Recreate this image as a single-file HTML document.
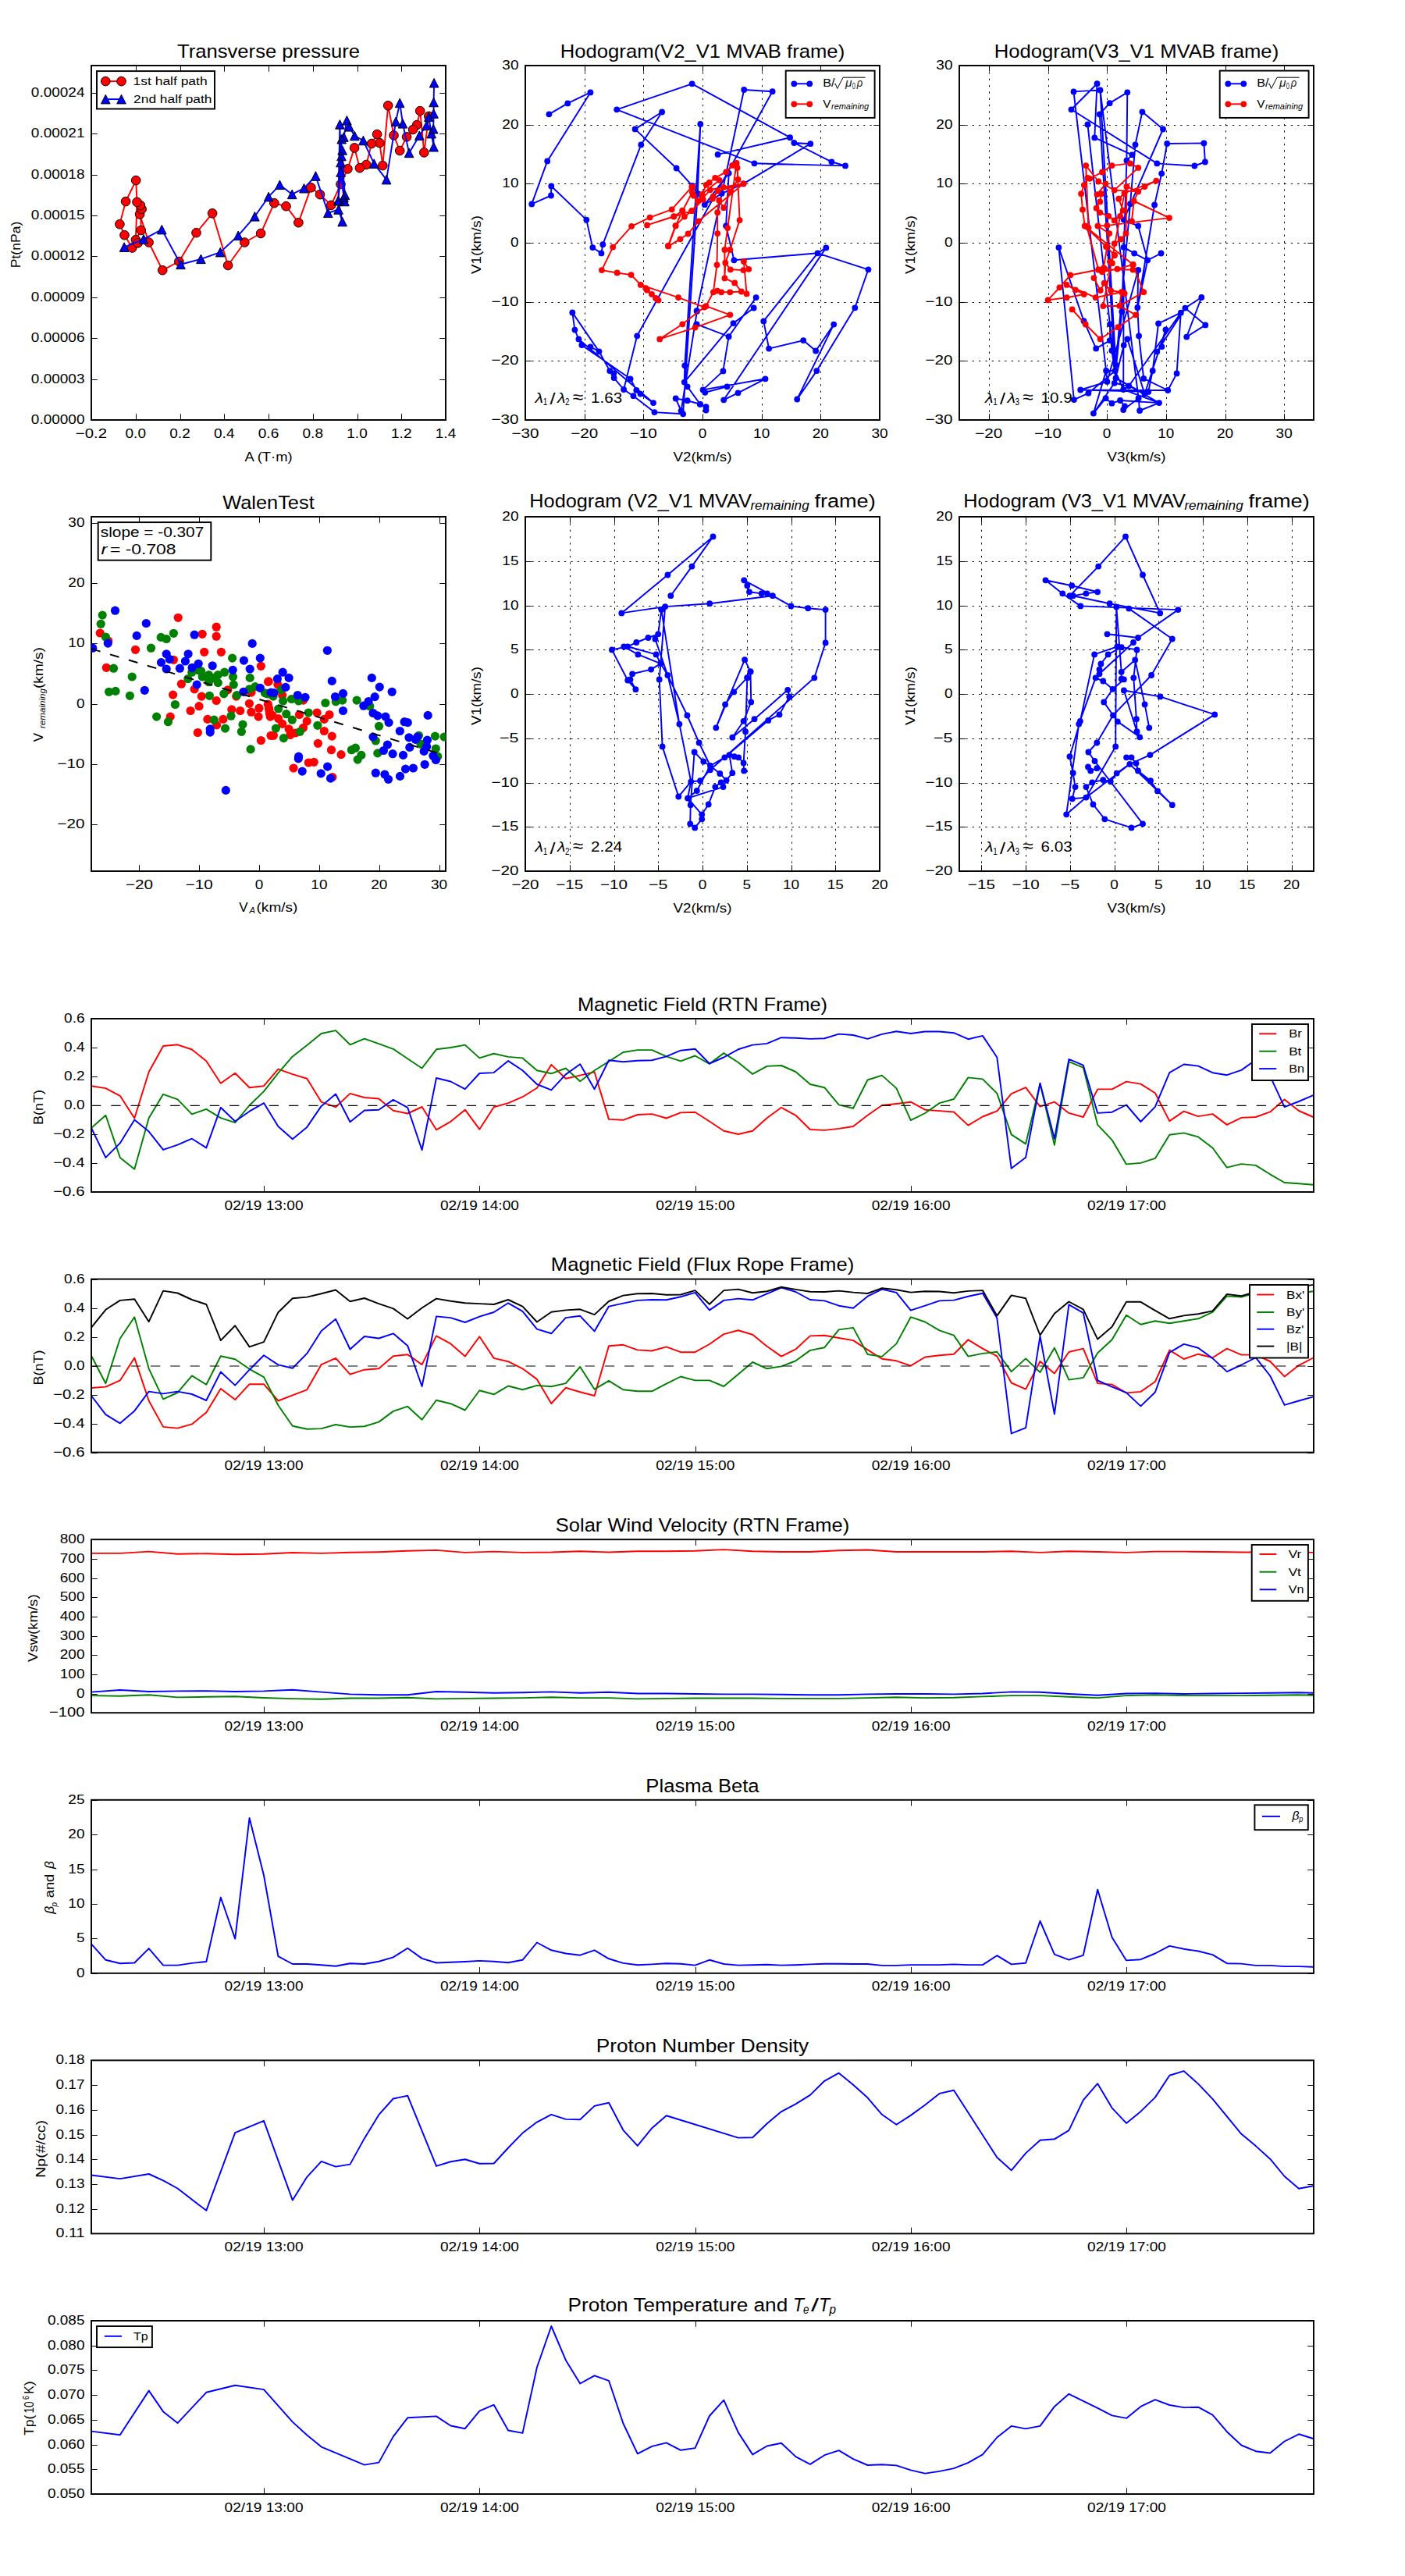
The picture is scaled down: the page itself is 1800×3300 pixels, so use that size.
<!DOCTYPE html>
<html><head><meta charset="utf-8"><style>html,body{margin:0;padding:0;background:#fff}svg{display:block}text{font-family:"Liberation Sans", sans-serif}</style></head>
<body><svg width="1800" height="3300" viewBox="0 0 1800 3300">
<rect width="1800" height="3300" fill="#fff"/>
<defs><clipPath id="c_ts0"><rect x="117" y="1305.0" width="1566" height="222.0"/></clipPath><clipPath id="c_ts1"><rect x="117" y="1638.6" width="1566" height="222.0"/></clipPath><clipPath id="c_ts2"><rect x="117" y="1972.2" width="1566" height="221.99999999999977"/></clipPath><clipPath id="c_ts3"><rect x="117" y="2305.8" width="1566" height="222.0"/></clipPath><clipPath id="c_ts4"><rect x="117" y="2639.4" width="1566" height="222.0"/></clipPath><clipPath id="c_ts5"><rect x="117" y="2973.0" width="1566" height="222.0"/></clipPath><clipPath id="c_p1"><rect x="117" y="84" width="454" height="454"/></clipPath><clipPath id="c_p2"><rect x="673" y="84" width="454" height="454"/></clipPath><clipPath id="c_p3"><rect x="1229" y="84" width="454" height="454"/></clipPath><clipPath id="c_p4"><rect x="117" y="662" width="454" height="454"/></clipPath><clipPath id="c_p5"><rect x="673" y="662" width="454" height="454"/></clipPath><clipPath id="c_p6"><rect x="1229" y="662" width="454" height="454"/></clipPath></defs>
<g clip-path="url(#c_ts0)">
<path d="M117.0 1391.2L135.4 1394.1L153.8 1403.8L172.3 1432.5L190.7 1373.3L209.1 1340.0L227.5 1338.3L245.9 1344.5L264.3 1359.3L282.8 1387.8L301.2 1374.7L319.6 1393.2L338.0 1391.2L356.4 1369.6L374.8 1376.1L393.3 1381.8L411.7 1411.7L430.1 1418.3L448.5 1400.9L466.9 1406.0L485.3 1407.5L503.8 1422.7L522.2 1426.5L540.6 1418.0L559.0 1447.3L577.4 1436.8L595.8 1421.7L614.3 1446.7L632.7 1418.3L651.1 1413.1L669.5 1405.2L687.9 1393.8L706.3 1363.9L724.8 1381.8L743.2 1377.6L761.6 1373.3L780.0 1433.9L798.4 1434.8L816.8 1428.0L835.3 1427.1L853.7 1432.5L872.1 1425.4L890.5 1424.8L908.9 1436.5L927.3 1448.7L945.8 1453.0L964.2 1448.7L982.6 1432.2L1001.0 1418.8L1019.4 1428.8L1037.9 1447.0L1056.3 1447.9L1074.7 1445.9L1093.1 1443.0L1111.5 1428.8L1129.9 1416.0L1148.4 1414.0L1166.8 1411.7L1185.2 1421.7L1203.6 1423.1L1222.0 1424.5L1240.4 1441.6L1258.9 1430.5L1277.3 1423.3L1295.7 1401.1L1314.1 1393.1L1332.5 1417.6L1350.9 1411.6L1369.4 1425.9L1387.8 1431.0L1406.2 1395.4L1424.6 1395.4L1443.0 1385.6L1461.4 1388.6L1479.9 1400.2L1498.3 1436.1L1516.7 1423.6L1535.1 1430.1L1553.5 1427.1L1571.9 1440.9L1590.4 1431.9L1608.8 1431.0L1627.2 1424.4L1645.6 1408.6L1664.0 1423.0L1682.4 1431.0" fill="none" stroke="#ff0000" stroke-width="1.94" stroke-linejoin="round" stroke-linecap="butt"/>
<path d="M117.0 1445.0L135.4 1428.8L153.8 1482.9L172.3 1497.7L190.7 1432.2L209.1 1401.8L227.5 1408.3L245.9 1427.4L264.3 1420.8L282.8 1432.2L301.2 1438.2L319.6 1416.0L338.0 1398.1L356.4 1374.7L374.8 1353.4L393.3 1339.1L411.7 1324.0L430.1 1320.1L448.5 1338.3L466.9 1330.6L485.3 1337.1L503.8 1343.8L522.2 1356.2L540.6 1368.5L559.0 1344.3L577.4 1342.0L595.8 1338.6L614.3 1355.4L632.7 1349.7L651.1 1353.9L669.5 1355.4L687.9 1371.3L706.3 1375.3L724.8 1368.5L743.2 1385.2L761.6 1371.3L780.0 1359.9L798.4 1348.0L816.8 1345.1L835.3 1345.1L853.7 1353.4L872.1 1359.3L890.5 1352.5L908.9 1362.8L927.3 1349.1L945.8 1361.0L964.2 1375.9L982.6 1365.9L1001.0 1365.0L1019.4 1373.0L1037.9 1389.0L1056.3 1393.2L1074.7 1415.4L1093.1 1419.7L1111.5 1383.5L1129.9 1377.6L1148.4 1394.1L1166.8 1435.1L1185.2 1426.0L1203.6 1413.1L1222.0 1408.0L1240.4 1380.4L1258.9 1382.4L1277.3 1400.6L1295.7 1453.4L1314.1 1465.4L1332.5 1388.3L1350.9 1466.9L1369.4 1360.2L1387.8 1367.6L1406.2 1440.9L1424.6 1460.3L1443.0 1491.4L1461.4 1489.9L1479.9 1483.9L1498.3 1453.7L1516.7 1451.4L1535.1 1456.4L1553.5 1470.5L1571.9 1495.6L1590.4 1491.1L1608.8 1492.9L1627.2 1504.3L1645.6 1515.0L1664.0 1516.2L1682.4 1517.7" fill="none" stroke="#008000" stroke-width="1.94" stroke-linejoin="round" stroke-linecap="butt"/>
<path d="M117.0 1445.0L135.4 1482.9L153.8 1464.4L172.3 1434.5L190.7 1449.6L209.1 1472.9L227.5 1466.7L245.9 1458.7L264.3 1470.4L282.8 1418.8L301.2 1436.5L319.6 1423.7L338.0 1413.1L356.4 1443.0L374.8 1459.3L393.3 1443.9L411.7 1416.9L430.1 1401.5L448.5 1437.3L466.9 1422.5L485.3 1421.7L503.8 1408.9L522.2 1418.8L540.6 1473.2L559.0 1381.0L577.4 1385.5L595.8 1395.2L614.3 1375.0L632.7 1374.1L651.1 1359.1L669.5 1371.3L687.9 1389.0L706.3 1396.4L724.8 1376.4L743.2 1363.3L761.6 1395.2L780.0 1358.2L798.4 1360.2L816.8 1358.8L835.3 1358.2L853.7 1353.4L872.1 1345.7L890.5 1343.7L908.9 1362.5L927.3 1354.5L945.8 1344.3L964.2 1338.6L982.6 1336.9L1001.0 1329.2L1019.4 1329.7L1037.9 1330.9L1056.3 1330.3L1074.7 1324.6L1093.1 1326.0L1111.5 1330.9L1129.9 1324.9L1148.4 1321.2L1166.8 1324.0L1185.2 1321.5L1203.6 1321.5L1222.0 1323.2L1240.4 1331.2L1258.9 1326.9L1277.3 1354.5L1295.7 1496.8L1314.1 1482.7L1332.5 1387.7L1350.9 1458.8L1369.4 1356.9L1387.8 1364.7L1406.2 1425.9L1424.6 1424.7L1443.0 1415.5L1461.4 1437.0L1479.9 1417.9L1498.3 1374.2L1516.7 1363.5L1535.1 1365.6L1553.5 1374.2L1571.9 1377.2L1590.4 1370.9L1608.8 1357.8L1627.2 1378.7L1645.6 1418.2L1664.0 1411.0L1682.4 1403.2" fill="none" stroke="#0000ff" stroke-width="1.94" stroke-linejoin="round" stroke-linecap="butt"/>
<path d="M117 1416.4H1683" stroke="#000" stroke-width="1.1" stroke-dasharray="12.3 13" fill="none"/>
</g>
<path d="M338.5 1527.0v-7.78M338.5 1305.0v7.78M614.5 1527.0v-7.78M614.5 1305.0v7.78M891.5 1527.0v-7.78M891.5 1305.0v7.78M1167.5 1527.0v-7.78M1167.5 1305.0v7.78M1443.5 1527.0v-7.78M1443.5 1305.0v7.78M117 1527.5h7.78M1683 1527.5h-7.78M117 1490.5h7.78M1683 1490.5h-7.78M117 1453.5h7.78M1683 1453.5h-7.78M117 1416.5h7.78M1683 1416.5h-7.78M117 1379.5h7.78M1683 1379.5h-7.78M117 1342.5h7.78M1683 1342.5h-7.78M117 1305.5h7.78M1683 1305.5h-7.78" stroke="#000" stroke-width="0.97" fill="none"/>
<text x="338.08" y="1549.60" font-size="16.90" text-anchor="middle" textLength="100.95" lengthAdjust="spacingAndGlyphs" fill="#000">02/19 13:00</text>
<text x="614.44" y="1549.60" font-size="16.90" text-anchor="middle" textLength="100.95" lengthAdjust="spacingAndGlyphs" fill="#000">02/19 14:00</text>
<text x="890.79" y="1549.60" font-size="16.90" text-anchor="middle" textLength="100.95" lengthAdjust="spacingAndGlyphs" fill="#000">02/19 15:00</text>
<text x="1167.14" y="1549.60" font-size="16.90" text-anchor="middle" textLength="100.95" lengthAdjust="spacingAndGlyphs" fill="#000">02/19 16:00</text>
<text x="1443.49" y="1549.60" font-size="16.90" text-anchor="middle" textLength="100.95" lengthAdjust="spacingAndGlyphs" fill="#000">02/19 17:00</text>
<text x="108.50" y="1532.00" font-size="16.90" text-anchor="end" textLength="40.31" lengthAdjust="spacingAndGlyphs" fill="#000">−0.6</text>
<text x="108.50" y="1495.00" font-size="16.90" text-anchor="end" textLength="40.31" lengthAdjust="spacingAndGlyphs" fill="#000">−0.4</text>
<text x="108.50" y="1458.00" font-size="16.90" text-anchor="end" textLength="40.31" lengthAdjust="spacingAndGlyphs" fill="#000">−0.2</text>
<text x="108.50" y="1421.00" font-size="16.90" text-anchor="end" textLength="26.40" lengthAdjust="spacingAndGlyphs" fill="#000">0.0</text>
<text x="108.50" y="1384.00" font-size="16.90" text-anchor="end" textLength="26.40" lengthAdjust="spacingAndGlyphs" fill="#000">0.2</text>
<text x="108.50" y="1347.00" font-size="16.90" text-anchor="end" textLength="26.40" lengthAdjust="spacingAndGlyphs" fill="#000">0.4</text>
<text x="108.50" y="1310.00" font-size="16.90" text-anchor="end" textLength="26.40" lengthAdjust="spacingAndGlyphs" fill="#000">0.6</text>
<rect x="117" y="1305.0" width="1566" height="222.0" fill="none" stroke="#000" stroke-width="1.94"/>
<text x="900.00" y="1294.80" font-size="23.75" text-anchor="middle" textLength="320.05" lengthAdjust="spacingAndGlyphs" fill="#000">Magnetic Field (RTN Frame)</text>
<text x="55.00" y="1418.50" font-size="16.90" text-anchor="middle" textLength="45.00" lengthAdjust="spacingAndGlyphs" fill="#000" transform="rotate(-90 55.00 1418.50)">B(nT)</text>
<rect x="1604.0" y="1312.0" width="72.0" height="72.0" fill="#fff" stroke="#000" stroke-width="1.94"/>
<path d="M1613.2 1324.3H1635.3" stroke="#ff0000" stroke-width="1.94"/>
<text x="1651.20" y="1329.30" font-size="15.27" text-anchor="start" textLength="16.46" lengthAdjust="spacingAndGlyphs" fill="#000">Br</text>
<path d="M1613.2 1346.7H1635.3" stroke="#008000" stroke-width="1.94"/>
<text x="1651.20" y="1351.70" font-size="15.27" text-anchor="start" textLength="16.17" lengthAdjust="spacingAndGlyphs" fill="#000">Bt</text>
<path d="M1613.2 1369.1H1635.3" stroke="#0000ff" stroke-width="1.94"/>
<text x="1651.20" y="1374.10" font-size="15.27" text-anchor="start" textLength="19.80" lengthAdjust="spacingAndGlyphs" fill="#000">Bn</text>
<g clip-path="url(#c_ts1)">
<path d="M117.0 1778.0L135.4 1776.6L153.8 1768.4L172.3 1739.6L190.7 1794.5L209.1 1827.9L227.5 1829.6L245.9 1824.4L264.3 1809.4L282.8 1778.9L301.2 1793.1L319.6 1773.2L338.0 1773.2L356.4 1794.5L374.8 1787.4L393.3 1780.3L411.7 1748.1L430.1 1739.9L448.5 1760.7L466.9 1754.7L485.3 1753.3L503.8 1737.3L522.2 1735.3L540.6 1748.1L559.0 1711.4L577.4 1721.4L595.8 1737.6L614.3 1712.3L632.7 1739.9L651.1 1744.2L669.5 1753.3L687.9 1766.9L706.3 1798.0L724.8 1777.8L743.2 1783.2L761.6 1788.0L780.0 1724.2L798.4 1722.8L816.8 1729.4L835.3 1730.5L853.7 1725.4L872.1 1732.2L890.5 1732.2L908.9 1722.0L927.3 1709.1L945.8 1704.3L964.2 1709.7L982.6 1724.8L1001.0 1737.6L1019.4 1728.5L1037.9 1711.4L1056.3 1710.8L1074.7 1714.0L1093.1 1717.1L1111.5 1729.1L1129.9 1740.7L1148.4 1743.3L1166.8 1749.6L1185.2 1738.5L1203.6 1736.2L1222.0 1734.8L1240.4 1716.3L1258.9 1727.6L1277.3 1737.4L1295.7 1771.5L1314.1 1779.6L1332.5 1744.0L1350.9 1759.5L1369.4 1732.0L1387.8 1727.6L1406.2 1772.1L1424.6 1773.6L1443.0 1784.4L1461.4 1782.9L1479.9 1770.0L1498.3 1729.6L1516.7 1741.0L1535.1 1734.7L1553.5 1739.2L1571.9 1727.6L1590.4 1735.6L1608.8 1735.6L1627.2 1744.0L1645.6 1763.4L1664.0 1749.1L1682.4 1739.5" fill="none" stroke="#ff0000" stroke-width="1.94" stroke-linejoin="round" stroke-linecap="butt"/>
<path d="M117.0 1736.8L135.4 1772.3L153.8 1714.8L172.3 1687.2L190.7 1753.3L209.1 1792.3L227.5 1784.0L245.9 1762.4L264.3 1773.8L282.8 1737.3L301.2 1741.3L319.6 1753.8L338.0 1764.1L356.4 1800.2L374.8 1826.7L393.3 1830.7L411.7 1830.1L430.1 1825.0L448.5 1828.1L466.9 1827.3L485.3 1821.6L503.8 1807.9L522.2 1801.7L540.6 1818.7L559.0 1793.7L577.4 1798.2L595.8 1806.5L614.3 1781.2L632.7 1786.3L651.1 1775.5L669.5 1780.3L687.9 1774.9L706.3 1776.3L724.8 1772.1L743.2 1751.0L761.6 1779.7L780.0 1768.9L798.4 1780.3L816.8 1782.3L835.3 1782.3L853.7 1772.6L872.1 1763.5L890.5 1768.4L908.9 1768.4L927.3 1776.0L945.8 1760.4L964.2 1745.0L982.6 1753.3L1001.0 1750.4L1019.4 1743.3L1037.9 1729.9L1056.3 1726.2L1074.7 1703.4L1093.1 1700.9L1111.5 1735.0L1129.9 1737.9L1148.4 1721.4L1166.8 1687.2L1185.2 1693.5L1203.6 1704.3L1222.0 1710.6L1240.4 1737.6L1258.9 1733.9L1277.3 1731.8L1295.7 1757.1L1314.1 1740.4L1332.5 1758.0L1350.9 1726.7L1369.4 1767.6L1387.8 1764.9L1406.2 1733.2L1424.6 1716.2L1443.0 1684.8L1461.4 1696.8L1479.9 1692.3L1498.3 1695.3L1516.7 1692.3L1535.1 1689.3L1553.5 1680.9L1571.9 1660.3L1590.4 1661.5L1608.8 1656.4L1627.2 1657.3L1645.6 1657.9L1664.0 1656.7L1682.4 1654.3" fill="none" stroke="#008000" stroke-width="1.94" stroke-linejoin="round" stroke-linecap="butt"/>
<path d="M117.0 1788.0L135.4 1812.2L153.8 1823.3L172.3 1807.4L190.7 1782.6L209.1 1785.4L227.5 1782.6L245.9 1786.0L264.3 1794.0L282.8 1757.5L301.2 1774.6L319.6 1754.7L338.0 1736.2L356.4 1748.4L374.8 1752.7L393.3 1733.9L411.7 1704.9L430.1 1689.8L448.5 1728.5L466.9 1712.0L485.3 1714.5L503.8 1708.3L522.2 1723.9L540.6 1776.0L559.0 1686.4L577.4 1688.1L595.8 1694.0L614.3 1686.6L632.7 1681.0L651.1 1669.3L669.5 1679.8L687.9 1702.6L706.3 1708.3L724.8 1688.1L743.2 1685.8L761.6 1705.4L780.0 1673.6L798.4 1669.6L816.8 1665.9L835.3 1665.0L853.7 1665.3L872.1 1661.3L890.5 1655.9L908.9 1678.4L927.3 1665.9L945.8 1663.6L964.2 1665.3L982.6 1657.3L1001.0 1649.6L1019.4 1655.0L1037.9 1665.0L1056.3 1666.4L1074.7 1672.7L1093.1 1675.8L1111.5 1660.7L1129.9 1651.6L1148.4 1655.9L1166.8 1678.7L1185.2 1672.7L1203.6 1666.4L1222.0 1665.6L1240.4 1660.7L1258.9 1656.8L1277.3 1688.5L1295.7 1836.4L1314.1 1829.2L1332.5 1711.7L1350.9 1811.6L1369.4 1671.3L1387.8 1681.8L1406.2 1768.5L1424.6 1776.6L1443.0 1784.1L1461.4 1801.4L1479.9 1783.5L1498.3 1732.6L1516.7 1721.9L1535.1 1726.7L1553.5 1740.1L1571.9 1757.1L1590.4 1748.5L1608.8 1739.2L1627.2 1762.5L1645.6 1799.9L1664.0 1794.5L1682.4 1789.4" fill="none" stroke="#0000ff" stroke-width="1.94" stroke-linejoin="round" stroke-linecap="butt"/>
<path d="M117.0 1700.6L135.4 1677.8L153.8 1665.9L172.3 1664.2L190.7 1693.2L209.1 1653.6L227.5 1656.5L245.9 1665.0L264.3 1671.0L282.8 1717.1L301.2 1698.3L319.6 1725.4L338.0 1719.1L356.4 1681.2L374.8 1663.3L393.3 1661.6L411.7 1657.3L430.1 1652.5L448.5 1667.3L466.9 1663.0L485.3 1670.1L503.8 1676.4L522.2 1689.5L540.6 1675.5L559.0 1663.6L577.4 1666.7L595.8 1669.3L614.3 1670.1L632.7 1671.0L651.1 1665.0L669.5 1673.6L687.9 1693.5L706.3 1680.7L724.8 1678.4L743.2 1677.3L761.6 1684.1L780.0 1667.0L798.4 1659.6L816.8 1657.3L835.3 1657.0L853.7 1658.7L872.1 1658.5L890.5 1653.1L908.9 1670.7L927.3 1653.1L945.8 1651.6L964.2 1656.2L982.6 1654.2L1001.0 1648.8L1019.4 1651.9L1037.9 1654.8L1056.3 1655.0L1074.7 1653.6L1093.1 1655.6L1111.5 1657.0L1129.9 1650.2L1148.4 1652.2L1166.8 1655.6L1185.2 1654.2L1203.6 1654.5L1222.0 1656.2L1240.4 1653.9L1258.9 1653.1L1277.3 1685.6L1295.7 1659.4L1314.1 1663.3L1332.5 1710.5L1350.9 1682.7L1369.4 1667.5L1387.8 1677.3L1406.2 1715.6L1424.6 1699.7L1443.0 1667.8L1461.4 1667.8L1479.9 1678.8L1498.3 1689.3L1516.7 1685.4L1535.1 1683.3L1553.5 1679.4L1571.9 1657.9L1590.4 1660.3L1608.8 1654.9L1627.2 1651.9L1645.6 1650.4L1664.0 1648.9L1682.4 1645.9" fill="none" stroke="#000000" stroke-width="1.94" stroke-linejoin="round" stroke-linecap="butt"/>
<path d="M117 1750.0H1683" stroke="#000" stroke-width="1.1" stroke-dasharray="12.3 13" fill="none"/>
</g>
<path d="M338.5 1860.6v-7.78M338.5 1638.6v7.78M614.5 1860.6v-7.78M614.5 1638.6v7.78M891.5 1860.6v-7.78M891.5 1638.6v7.78M1167.5 1860.6v-7.78M1167.5 1638.6v7.78M1443.5 1860.6v-7.78M1443.5 1638.6v7.78M117 1861.5h7.78M1683 1861.5h-7.78M117 1824.5h7.78M1683 1824.5h-7.78M117 1787.5h7.78M1683 1787.5h-7.78M117 1750.5h7.78M1683 1750.5h-7.78M117 1713.5h7.78M1683 1713.5h-7.78M117 1676.5h7.78M1683 1676.5h-7.78M117 1639.5h7.78M1683 1639.5h-7.78" stroke="#000" stroke-width="0.97" fill="none"/>
<text x="338.08" y="1883.20" font-size="16.90" text-anchor="middle" textLength="100.95" lengthAdjust="spacingAndGlyphs" fill="#000">02/19 13:00</text>
<text x="614.44" y="1883.20" font-size="16.90" text-anchor="middle" textLength="100.95" lengthAdjust="spacingAndGlyphs" fill="#000">02/19 14:00</text>
<text x="890.79" y="1883.20" font-size="16.90" text-anchor="middle" textLength="100.95" lengthAdjust="spacingAndGlyphs" fill="#000">02/19 15:00</text>
<text x="1167.14" y="1883.20" font-size="16.90" text-anchor="middle" textLength="100.95" lengthAdjust="spacingAndGlyphs" fill="#000">02/19 16:00</text>
<text x="1443.49" y="1883.20" font-size="16.90" text-anchor="middle" textLength="100.95" lengthAdjust="spacingAndGlyphs" fill="#000">02/19 17:00</text>
<text x="108.50" y="1865.60" font-size="16.90" text-anchor="end" textLength="40.31" lengthAdjust="spacingAndGlyphs" fill="#000">−0.6</text>
<text x="108.50" y="1828.60" font-size="16.90" text-anchor="end" textLength="40.31" lengthAdjust="spacingAndGlyphs" fill="#000">−0.4</text>
<text x="108.50" y="1791.60" font-size="16.90" text-anchor="end" textLength="40.31" lengthAdjust="spacingAndGlyphs" fill="#000">−0.2</text>
<text x="108.50" y="1754.60" font-size="16.90" text-anchor="end" textLength="26.40" lengthAdjust="spacingAndGlyphs" fill="#000">0.0</text>
<text x="108.50" y="1717.60" font-size="16.90" text-anchor="end" textLength="26.40" lengthAdjust="spacingAndGlyphs" fill="#000">0.2</text>
<text x="108.50" y="1680.60" font-size="16.90" text-anchor="end" textLength="26.40" lengthAdjust="spacingAndGlyphs" fill="#000">0.4</text>
<text x="108.50" y="1643.60" font-size="16.90" text-anchor="end" textLength="26.40" lengthAdjust="spacingAndGlyphs" fill="#000">0.6</text>
<rect x="117" y="1638.6" width="1566" height="222.0" fill="none" stroke="#000" stroke-width="1.94"/>
<text x="900.00" y="1628.40" font-size="23.75" text-anchor="middle" textLength="388.34" lengthAdjust="spacingAndGlyphs" fill="#000">Magnetic Field (Flux Rope Frame)</text>
<text x="55.00" y="1752.10" font-size="16.90" text-anchor="middle" textLength="45.00" lengthAdjust="spacingAndGlyphs" fill="#000" transform="rotate(-90 55.00 1752.10)">B(nT)</text>
<rect x="1601.0" y="1646.0" width="75.0" height="93.5" fill="#fff" stroke="#000" stroke-width="1.94"/>
<path d="M1610.2 1658.5H1632.3" stroke="#ff0000" stroke-width="1.94"/>
<text x="1648.00" y="1663.50" font-size="15.27" text-anchor="start" textLength="23.29" lengthAdjust="spacingAndGlyphs" fill="#000">Bx'</text>
<path d="M1610.2 1681.0H1632.3" stroke="#008000" stroke-width="1.94"/>
<text x="1648.00" y="1686.00" font-size="15.27" text-anchor="start" textLength="23.29" lengthAdjust="spacingAndGlyphs" fill="#000">By'</text>
<path d="M1610.2 1702.7H1632.3" stroke="#0000ff" stroke-width="1.94"/>
<text x="1648.00" y="1707.70" font-size="15.27" text-anchor="start" textLength="22.29" lengthAdjust="spacingAndGlyphs" fill="#000">Bz'</text>
<path d="M1610.2 1724.6H1632.3" stroke="#000000" stroke-width="1.94"/>
<text x="1648.00" y="1729.60" font-size="15.27" text-anchor="start" textLength="20.40" lengthAdjust="spacingAndGlyphs" fill="#000">|B|</text>
<g clip-path="url(#c_ts2)">
<path d="M117.0 1989.9L153.8 1989.9L190.7 1987.6L227.5 1990.8L264.3 1990.2L301.2 1991.3L338.0 1990.8L374.8 1989.0L411.7 1989.9L448.5 1988.8L485.3 1988.2L522.2 1986.8L559.0 1985.9L595.8 1988.9L632.7 1987.6L669.5 1988.9L706.3 1988.5L743.2 1987.2L780.0 1988.5L816.8 1987.2L853.7 1987.2L890.5 1986.8L927.3 1985.1L964.2 1987.2L1001.0 1988.0L1037.9 1988.0L1074.7 1986.3L1111.5 1985.5L1148.4 1988.0L1185.2 1988.0L1222.0 1988.0L1258.9 1988.0L1295.7 1987.2L1332.5 1988.9L1369.4 1987.2L1406.2 1988.0L1443.0 1988.9L1479.9 1987.6L1516.7 1987.6L1553.5 1988.0L1590.4 1988.5L1627.2 1988.5L1664.0 1988.5L1682.4 1988.9" fill="none" stroke="#ff0000" stroke-width="1.94" stroke-linejoin="round" stroke-linecap="butt"/>
<path d="M117.0 2172.1L153.8 2172.7L190.7 2171.3L227.5 2174.4L264.3 2173.8L301.2 2173.2L338.0 2175.0L374.8 2176.1L411.7 2176.7L448.5 2175.5L485.3 2175.5L522.2 2174.7L559.0 2176.4L595.8 2175.9L632.7 2175.5L669.5 2175.1L706.3 2174.2L743.2 2175.1L780.0 2175.1L816.8 2176.4L853.7 2175.9L890.5 2175.5L927.3 2175.5L964.2 2175.5L1001.0 2175.9L1037.9 2175.9L1074.7 2175.9L1111.5 2175.1L1148.4 2174.2L1185.2 2175.1L1222.0 2174.7L1258.9 2173.4L1295.7 2172.1L1332.5 2172.1L1369.4 2173.8L1406.2 2175.1L1443.0 2172.1L1479.9 2171.2L1516.7 2172.1L1553.5 2172.1L1590.4 2172.1L1627.2 2171.7L1664.0 2171.2L1682.4 2171.7" fill="none" stroke="#008000" stroke-width="1.94" stroke-linejoin="round" stroke-linecap="butt"/>
<path d="M117.0 2167.6L153.8 2165.0L190.7 2167.0L227.5 2166.4L264.3 2166.1L301.2 2167.0L338.0 2166.4L374.8 2164.7L411.7 2167.6L448.5 2170.4L485.3 2171.3L522.2 2171.2L559.0 2167.0L595.8 2167.8L632.7 2168.7L669.5 2168.3L706.3 2167.4L743.2 2168.7L780.0 2167.8L816.8 2169.5L853.7 2169.5L890.5 2170.0L927.3 2170.4L964.2 2170.4L1001.0 2170.8L1037.9 2171.2L1074.7 2171.2L1111.5 2170.4L1148.4 2170.0L1185.2 2170.0L1222.0 2170.4L1258.9 2169.5L1295.7 2167.4L1332.5 2167.8L1369.4 2170.0L1406.2 2171.7L1443.0 2169.5L1479.9 2169.1L1516.7 2170.0L1553.5 2169.5L1590.4 2169.1L1627.2 2168.7L1664.0 2168.3L1682.4 2168.7" fill="none" stroke="#0000ff" stroke-width="1.94" stroke-linejoin="round" stroke-linecap="butt"/>
</g>
<path d="M338.5 2194.2v-7.78M338.5 1972.2v7.78M614.5 2194.2v-7.78M614.5 1972.2v7.78M891.5 2194.2v-7.78M891.5 1972.2v7.78M1167.5 2194.2v-7.78M1167.5 1972.2v7.78M1443.5 2194.2v-7.78M1443.5 1972.2v7.78M117 2194.5h7.78M1683 2194.5h-7.78M117 2170.5h7.78M1683 2170.5h-7.78M117 2145.5h7.78M1683 2145.5h-7.78M117 2120.5h7.78M1683 2120.5h-7.78M117 2096.5h7.78M1683 2096.5h-7.78M117 2071.5h7.78M1683 2071.5h-7.78M117 2046.5h7.78M1683 2046.5h-7.78M117 2022.5h7.78M1683 2022.5h-7.78M117 1997.5h7.78M1683 1997.5h-7.78M117 1972.5h7.78M1683 1972.5h-7.78" stroke="#000" stroke-width="0.97" fill="none"/>
<text x="338.08" y="2216.80" font-size="16.90" text-anchor="middle" textLength="100.95" lengthAdjust="spacingAndGlyphs" fill="#000">02/19 13:00</text>
<text x="614.44" y="2216.80" font-size="16.90" text-anchor="middle" textLength="100.95" lengthAdjust="spacingAndGlyphs" fill="#000">02/19 14:00</text>
<text x="890.79" y="2216.80" font-size="16.90" text-anchor="middle" textLength="100.95" lengthAdjust="spacingAndGlyphs" fill="#000">02/19 15:00</text>
<text x="1167.14" y="2216.80" font-size="16.90" text-anchor="middle" textLength="100.95" lengthAdjust="spacingAndGlyphs" fill="#000">02/19 16:00</text>
<text x="1443.49" y="2216.80" font-size="16.90" text-anchor="middle" textLength="100.95" lengthAdjust="spacingAndGlyphs" fill="#000">02/19 17:00</text>
<text x="108.50" y="2199.20" font-size="16.90" text-anchor="end" textLength="45.60" lengthAdjust="spacingAndGlyphs" fill="#000">−100</text>
<text x="108.50" y="2174.53" font-size="16.90" text-anchor="end" textLength="10.56" lengthAdjust="spacingAndGlyphs" fill="#000">0</text>
<text x="108.50" y="2149.87" font-size="16.90" text-anchor="end" textLength="31.69" lengthAdjust="spacingAndGlyphs" fill="#000">100</text>
<text x="108.50" y="2125.20" font-size="16.90" text-anchor="end" textLength="31.69" lengthAdjust="spacingAndGlyphs" fill="#000">200</text>
<text x="108.50" y="2100.53" font-size="16.90" text-anchor="end" textLength="31.69" lengthAdjust="spacingAndGlyphs" fill="#000">300</text>
<text x="108.50" y="2075.87" font-size="16.90" text-anchor="end" textLength="31.69" lengthAdjust="spacingAndGlyphs" fill="#000">400</text>
<text x="108.50" y="2051.20" font-size="16.90" text-anchor="end" textLength="31.69" lengthAdjust="spacingAndGlyphs" fill="#000">500</text>
<text x="108.50" y="2026.53" font-size="16.90" text-anchor="end" textLength="31.69" lengthAdjust="spacingAndGlyphs" fill="#000">600</text>
<text x="108.50" y="2001.87" font-size="16.90" text-anchor="end" textLength="31.69" lengthAdjust="spacingAndGlyphs" fill="#000">700</text>
<text x="108.50" y="1977.20" font-size="16.90" text-anchor="end" textLength="31.69" lengthAdjust="spacingAndGlyphs" fill="#000">800</text>
<rect x="117" y="1972.2" width="1566" height="221.99999999999977" fill="none" stroke="#000" stroke-width="1.94"/>
<text x="900.00" y="1962.00" font-size="23.75" text-anchor="middle" textLength="376.38" lengthAdjust="spacingAndGlyphs" fill="#000">Solar Wind Velocity (RTN Frame)</text>
<text x="48.00" y="2085.70" font-size="16.90" text-anchor="middle" textLength="86.55" lengthAdjust="spacingAndGlyphs" fill="#000" transform="rotate(-90 48.00 2085.70)">Vsw(km/s)</text>
<rect x="1603.7" y="1979.0" width="72.2" height="71.8" fill="#fff" stroke="#000" stroke-width="1.94"/>
<path d="M1613.6 1991.0H1635.3" stroke="#ff0000" stroke-width="1.94"/>
<text x="1650.70" y="1996.00" font-size="15.27" text-anchor="start" textLength="16.43" lengthAdjust="spacingAndGlyphs" fill="#000">Vr</text>
<path d="M1613.6 2013.7H1635.3" stroke="#008000" stroke-width="1.94"/>
<text x="1650.70" y="2018.70" font-size="15.27" text-anchor="start" textLength="16.14" lengthAdjust="spacingAndGlyphs" fill="#000">Vt</text>
<path d="M1613.6 2036.3H1635.3" stroke="#0000ff" stroke-width="1.94"/>
<text x="1650.70" y="2041.30" font-size="15.27" text-anchor="start" textLength="19.77" lengthAdjust="spacingAndGlyphs" fill="#000">Vn</text>
<g clip-path="url(#c_ts3)">
<path d="M117.0 2490.4L135.4 2510.8L153.8 2515.3L172.3 2514.5L190.7 2496.1L209.1 2517.6L227.5 2517.6L245.9 2514.9L264.3 2513.0L282.8 2430.8L301.2 2483.6L319.6 2328.9L338.0 2402.5L356.4 2506.2L374.8 2516.0L393.3 2516.0L411.7 2517.2L430.1 2518.7L448.5 2515.3L466.9 2516.0L485.3 2512.7L503.8 2507.4L522.2 2495.7L540.6 2508.9L559.0 2514.5L577.4 2513.8L595.8 2513.0L614.3 2511.9L632.7 2512.7L651.1 2514.2L669.5 2510.8L687.9 2488.5L706.3 2498.3L724.8 2502.5L743.2 2504.7L761.6 2498.3L780.0 2509.3L798.4 2514.9L816.8 2517.2L835.3 2516.4L853.7 2515.3L872.1 2515.7L890.5 2517.6L908.9 2510.8L927.3 2516.0L945.8 2517.6L964.2 2517.2L982.6 2516.8L1001.0 2517.6L1019.4 2517.2L1037.9 2516.4L1056.3 2515.7L1074.7 2515.7L1093.1 2516.0L1111.5 2516.0L1129.9 2517.9L1148.4 2517.9L1166.8 2517.1L1185.2 2517.1L1203.6 2517.1L1222.0 2516.4L1240.4 2517.1L1258.9 2517.1L1277.3 2505.2L1295.7 2516.4L1314.1 2514.8L1332.5 2461.0L1350.9 2503.7L1369.4 2510.6L1387.8 2504.8L1406.2 2420.7L1424.6 2481.8L1443.0 2511.4L1461.4 2510.2L1479.9 2502.5L1498.3 2492.9L1516.7 2496.8L1535.1 2499.5L1553.5 2504.1L1571.9 2515.2L1590.4 2515.6L1608.8 2517.9L1627.2 2517.9L1645.6 2519.1L1664.0 2519.1L1682.4 2519.8" fill="none" stroke="#0000ff" stroke-width="1.94" stroke-linejoin="round" stroke-linecap="butt"/>
</g>
<path d="M338.5 2527.8v-7.78M338.5 2305.8v7.78M614.5 2527.8v-7.78M614.5 2305.8v7.78M891.5 2527.8v-7.78M891.5 2305.8v7.78M1167.5 2527.8v-7.78M1167.5 2305.8v7.78M1443.5 2527.8v-7.78M1443.5 2305.8v7.78M117 2528.5h7.78M1683 2528.5h-7.78M117 2483.5h7.78M1683 2483.5h-7.78M117 2439.5h7.78M1683 2439.5h-7.78M117 2395.5h7.78M1683 2395.5h-7.78M117 2350.5h7.78M1683 2350.5h-7.78M117 2306.5h7.78M1683 2306.5h-7.78" stroke="#000" stroke-width="0.97" fill="none"/>
<text x="338.08" y="2550.40" font-size="16.90" text-anchor="middle" textLength="100.95" lengthAdjust="spacingAndGlyphs" fill="#000">02/19 13:00</text>
<text x="614.44" y="2550.40" font-size="16.90" text-anchor="middle" textLength="100.95" lengthAdjust="spacingAndGlyphs" fill="#000">02/19 14:00</text>
<text x="890.79" y="2550.40" font-size="16.90" text-anchor="middle" textLength="100.95" lengthAdjust="spacingAndGlyphs" fill="#000">02/19 15:00</text>
<text x="1167.14" y="2550.40" font-size="16.90" text-anchor="middle" textLength="100.95" lengthAdjust="spacingAndGlyphs" fill="#000">02/19 16:00</text>
<text x="1443.49" y="2550.40" font-size="16.90" text-anchor="middle" textLength="100.95" lengthAdjust="spacingAndGlyphs" fill="#000">02/19 17:00</text>
<text x="108.50" y="2532.80" font-size="16.90" text-anchor="end" textLength="10.56" lengthAdjust="spacingAndGlyphs" fill="#000">0</text>
<text x="108.50" y="2488.40" font-size="16.90" text-anchor="end" textLength="10.56" lengthAdjust="spacingAndGlyphs" fill="#000">5</text>
<text x="108.50" y="2444.00" font-size="16.90" text-anchor="end" textLength="21.12" lengthAdjust="spacingAndGlyphs" fill="#000">10</text>
<text x="108.50" y="2399.60" font-size="16.90" text-anchor="end" textLength="21.12" lengthAdjust="spacingAndGlyphs" fill="#000">15</text>
<text x="108.50" y="2355.20" font-size="16.90" text-anchor="end" textLength="21.12" lengthAdjust="spacingAndGlyphs" fill="#000">20</text>
<text x="108.50" y="2310.80" font-size="16.90" text-anchor="end" textLength="21.12" lengthAdjust="spacingAndGlyphs" fill="#000">25</text>
<rect x="117" y="2305.8" width="1566" height="222.0" fill="none" stroke="#000" stroke-width="1.94"/>
<text x="900.00" y="2295.60" font-size="23.75" text-anchor="middle" textLength="145.24" lengthAdjust="spacingAndGlyphs" fill="#000">Plasma Beta</text>
<rect x="1607.4" y="2312.3" width="68.4" height="31.9" fill="#fff" stroke="#000" stroke-width="1.94"/>
<path d="M1617 2326.9H1640" stroke="#0000ff" stroke-width="1.94"/>
<g clip-path="url(#c_ts4)">
<path d="M117.0 2786.5L153.8 2791.1L190.7 2785.0L209.1 2793.3L227.5 2803.5L264.3 2831.8L301.2 2732.2L338.0 2716.8L374.8 2818.6L393.3 2788.8L411.7 2768.8L430.1 2775.6L448.5 2772.6L466.9 2739.4L485.3 2709.2L503.8 2688.5L522.2 2684.7L559.0 2774.9L577.4 2769.2L595.8 2766.2L614.3 2771.8L632.7 2771.5L651.1 2751.5L669.5 2732.6L687.9 2718.6L706.3 2708.8L724.8 2714.9L743.2 2715.3L761.6 2697.9L780.0 2693.7L798.4 2728.8L816.8 2748.8L835.3 2726.2L853.7 2710.3L945.8 2738.6L964.2 2738.3L982.6 2720.5L1001.0 2705.1L1019.4 2695.3L1037.9 2683.9L1056.3 2665.8L1074.7 2655.7L1093.1 2670.7L1111.5 2687.3L1129.9 2708.8L1148.4 2721.7L1166.8 2709.9L1185.2 2696.5L1203.6 2681.9L1222.0 2677.7L1277.3 2763.7L1295.7 2780.3L1314.1 2758.4L1332.5 2741.8L1350.9 2740.3L1369.4 2729.2L1387.8 2690.3L1406.2 2669.2L1424.6 2700.3L1443.0 2719.9L1461.4 2704.9L1479.9 2686.9L1498.3 2658.8L1516.7 2653.1L1535.1 2669.6L1553.5 2688.8L1590.4 2733.8L1608.8 2749.1L1627.2 2765.7L1645.6 2788.0L1664.0 2803.7L1682.4 2800.3" fill="none" stroke="#0000ff" stroke-width="1.94" stroke-linejoin="round" stroke-linecap="butt"/>
</g>
<path d="M338.5 2861.4v-7.78M338.5 2639.4v7.78M614.5 2861.4v-7.78M614.5 2639.4v7.78M891.5 2861.4v-7.78M891.5 2639.4v7.78M1167.5 2861.4v-7.78M1167.5 2639.4v7.78M1443.5 2861.4v-7.78M1443.5 2639.4v7.78M117 2861.5h7.78M1683 2861.5h-7.78M117 2830.5h7.78M1683 2830.5h-7.78M117 2798.5h7.78M1683 2798.5h-7.78M117 2766.5h7.78M1683 2766.5h-7.78M117 2735.5h7.78M1683 2735.5h-7.78M117 2703.5h7.78M1683 2703.5h-7.78M117 2671.5h7.78M1683 2671.5h-7.78M117 2639.5h7.78M1683 2639.5h-7.78" stroke="#000" stroke-width="0.97" fill="none"/>
<text x="338.08" y="2884.00" font-size="16.90" text-anchor="middle" textLength="100.95" lengthAdjust="spacingAndGlyphs" fill="#000">02/19 13:00</text>
<text x="614.44" y="2884.00" font-size="16.90" text-anchor="middle" textLength="100.95" lengthAdjust="spacingAndGlyphs" fill="#000">02/19 14:00</text>
<text x="890.79" y="2884.00" font-size="16.90" text-anchor="middle" textLength="100.95" lengthAdjust="spacingAndGlyphs" fill="#000">02/19 15:00</text>
<text x="1167.14" y="2884.00" font-size="16.90" text-anchor="middle" textLength="100.95" lengthAdjust="spacingAndGlyphs" fill="#000">02/19 16:00</text>
<text x="1443.49" y="2884.00" font-size="16.90" text-anchor="middle" textLength="100.95" lengthAdjust="spacingAndGlyphs" fill="#000">02/19 17:00</text>
<text x="108.50" y="2866.40" font-size="16.90" text-anchor="end" textLength="36.96" lengthAdjust="spacingAndGlyphs" fill="#000">0.11</text>
<text x="108.50" y="2834.69" font-size="16.90" text-anchor="end" textLength="36.96" lengthAdjust="spacingAndGlyphs" fill="#000">0.12</text>
<text x="108.50" y="2802.97" font-size="16.90" text-anchor="end" textLength="36.96" lengthAdjust="spacingAndGlyphs" fill="#000">0.13</text>
<text x="108.50" y="2771.26" font-size="16.90" text-anchor="end" textLength="36.96" lengthAdjust="spacingAndGlyphs" fill="#000">0.14</text>
<text x="108.50" y="2739.54" font-size="16.90" text-anchor="end" textLength="36.96" lengthAdjust="spacingAndGlyphs" fill="#000">0.15</text>
<text x="108.50" y="2707.83" font-size="16.90" text-anchor="end" textLength="36.96" lengthAdjust="spacingAndGlyphs" fill="#000">0.16</text>
<text x="108.50" y="2676.11" font-size="16.90" text-anchor="end" textLength="36.96" lengthAdjust="spacingAndGlyphs" fill="#000">0.17</text>
<text x="108.50" y="2644.40" font-size="16.90" text-anchor="end" textLength="36.96" lengthAdjust="spacingAndGlyphs" fill="#000">0.18</text>
<rect x="117" y="2639.4" width="1566" height="222.0" fill="none" stroke="#000" stroke-width="1.94"/>
<text x="900.00" y="2629.20" font-size="23.75" text-anchor="middle" textLength="272.45" lengthAdjust="spacingAndGlyphs" fill="#000">Proton Number Density</text>
<text x="58.00" y="2752.90" font-size="16.90" text-anchor="middle" textLength="73.67" lengthAdjust="spacingAndGlyphs" fill="#000" transform="rotate(-90 58.00 2752.90)">Np(#/cc)</text>
<g clip-path="url(#c_ts5)">
<path d="M117.0 3114.6L153.8 3119.2L190.7 3062.6L209.1 3089.4L227.5 3104.1L264.3 3064.8L301.2 3055.8L338.0 3061.1L374.8 3102.6L393.3 3119.5L411.7 3134.6L466.9 3157.6L485.3 3154.6L503.8 3121.4L522.2 3097.3L559.0 3095.4L577.4 3107.5L595.8 3111.2L614.3 3088.6L632.7 3080.7L651.1 3113.5L669.5 3116.9L687.9 3032.8L706.3 2980.0L724.8 3023.4L743.2 3053.5L761.6 3043.3L780.0 3049.8L798.4 3104.5L816.8 3143.3L835.3 3133.9L853.7 3129.4L872.1 3138.8L890.5 3136.1L908.9 3095.0L927.3 3074.7L945.8 3116.1L964.2 3144.4L982.6 3133.5L1001.0 3129.7L1019.4 3147.1L1037.9 3156.9L1056.3 3145.2L1074.7 3139.2L1093.1 3150.1L1111.5 3158.0L1129.9 3157.3L1148.4 3158.4L1166.8 3164.4L1185.2 3168.6L1203.6 3165.9L1222.0 3162.1L1240.4 3154.8L1258.9 3144.4L1277.3 3122.5L1295.7 3107.9L1314.1 3111.4L1332.5 3107.9L1350.9 3082.9L1369.4 3066.8L1406.2 3084.8L1424.6 3094.4L1443.0 3097.9L1461.4 3082.9L1479.9 3074.1L1498.3 3081.0L1516.7 3084.1L1535.1 3083.7L1553.5 3093.7L1571.9 3115.2L1590.4 3132.5L1608.8 3140.2L1627.2 3142.5L1645.6 3127.5L1664.0 3118.3L1682.4 3124.0" fill="none" stroke="#0000ff" stroke-width="1.94" stroke-linejoin="round" stroke-linecap="butt"/>
</g>
<path d="M338.5 3195.0v-7.78M338.5 2973.0v7.78M614.5 3195.0v-7.78M614.5 2973.0v7.78M891.5 3195.0v-7.78M891.5 2973.0v7.78M1167.5 3195.0v-7.78M1167.5 2973.0v7.78M1443.5 3195.0v-7.78M1443.5 2973.0v7.78M117 3195.5h7.78M1683 3195.5h-7.78M117 3163.5h7.78M1683 3163.5h-7.78M117 3132.5h7.78M1683 3132.5h-7.78M117 3100.5h7.78M1683 3100.5h-7.78M117 3068.5h7.78M1683 3068.5h-7.78M117 3036.5h7.78M1683 3036.5h-7.78M117 3005.5h7.78M1683 3005.5h-7.78M117 2973.5h7.78M1683 2973.5h-7.78" stroke="#000" stroke-width="0.97" fill="none"/>
<text x="338.08" y="3217.60" font-size="16.90" text-anchor="middle" textLength="100.95" lengthAdjust="spacingAndGlyphs" fill="#000">02/19 13:00</text>
<text x="614.44" y="3217.60" font-size="16.90" text-anchor="middle" textLength="100.95" lengthAdjust="spacingAndGlyphs" fill="#000">02/19 14:00</text>
<text x="890.79" y="3217.60" font-size="16.90" text-anchor="middle" textLength="100.95" lengthAdjust="spacingAndGlyphs" fill="#000">02/19 15:00</text>
<text x="1167.14" y="3217.60" font-size="16.90" text-anchor="middle" textLength="100.95" lengthAdjust="spacingAndGlyphs" fill="#000">02/19 16:00</text>
<text x="1443.49" y="3217.60" font-size="16.90" text-anchor="middle" textLength="100.95" lengthAdjust="spacingAndGlyphs" fill="#000">02/19 17:00</text>
<text x="108.50" y="3200.00" font-size="16.90" text-anchor="end" textLength="47.52" lengthAdjust="spacingAndGlyphs" fill="#000">0.050</text>
<text x="108.50" y="3168.29" font-size="16.90" text-anchor="end" textLength="47.52" lengthAdjust="spacingAndGlyphs" fill="#000">0.055</text>
<text x="108.50" y="3136.57" font-size="16.90" text-anchor="end" textLength="47.52" lengthAdjust="spacingAndGlyphs" fill="#000">0.060</text>
<text x="108.50" y="3104.86" font-size="16.90" text-anchor="end" textLength="47.52" lengthAdjust="spacingAndGlyphs" fill="#000">0.065</text>
<text x="108.50" y="3073.14" font-size="16.90" text-anchor="end" textLength="47.52" lengthAdjust="spacingAndGlyphs" fill="#000">0.070</text>
<text x="108.50" y="3041.43" font-size="16.90" text-anchor="end" textLength="47.52" lengthAdjust="spacingAndGlyphs" fill="#000">0.075</text>
<text x="108.50" y="3009.71" font-size="16.90" text-anchor="end" textLength="47.52" lengthAdjust="spacingAndGlyphs" fill="#000">0.080</text>
<text x="108.50" y="2978.00" font-size="16.90" text-anchor="end" textLength="47.52" lengthAdjust="spacingAndGlyphs" fill="#000">0.085</text>
<rect x="117" y="2973.0" width="1566" height="222.0" fill="none" stroke="#000" stroke-width="1.94"/>
<text x="900.00" y="2962.80" font-size="23.75" text-anchor="middle" textLength="0.00" lengthAdjust="spacingAndGlyphs" fill="#000"></text>
<rect x="124.0" y="2980.0" width="70.9" height="27.1" fill="#fff" stroke="#000" stroke-width="1.94"/>
<path d="M133.8 2992.8H156.0" stroke="#0000ff" stroke-width="1.94"/>
<text x="171.00" y="2997.80" font-size="15.27" text-anchor="start" textLength="18.68" lengthAdjust="spacingAndGlyphs" fill="#000">Tp</text>
<text x="727.50" y="2960.60" font-size="23.75" text-anchor="start" textLength="281.70" lengthAdjust="spacingAndGlyphs" fill="#000">Proton Temperature and</text>
<text x="1016.00" y="2960.60" font-size="24.00" font-family='"Liberation Serif", serif' font-style="italic" text-anchor="start" textLength="14.00" lengthAdjust="spacingAndGlyphs" fill="#000">T</text>
<text x="1029.00" y="2964.00" font-size="16.00" font-family='"Liberation Serif", serif' font-style="italic" text-anchor="start" textLength="7.50" lengthAdjust="spacingAndGlyphs" fill="#000">e</text>
<text x="1039.00" y="2960.60" font-size="24.00" font-family='"Liberation Serif", serif' font-style="normal" text-anchor="start" textLength="10.00" lengthAdjust="spacingAndGlyphs" fill="#000">/</text>
<text x="1049.00" y="2960.60" font-size="24.00" font-family='"Liberation Serif", serif' font-style="italic" text-anchor="start" textLength="14.00" lengthAdjust="spacingAndGlyphs" fill="#000">T</text>
<text x="1062.50" y="2964.00" font-size="16.00" font-family='"Liberation Serif", serif' font-style="italic" text-anchor="start" textLength="8.50" lengthAdjust="spacingAndGlyphs" fill="#000">p</text>
<path d="M117.5 538v-7.78M117.5 84v7.78M174.5 538v-7.78M174.5 84v7.78M231.5 538v-7.78M231.5 84v7.78M287.5 538v-7.78M287.5 84v7.78M344.5 538v-7.78M344.5 84v7.78M401.5 538v-7.78M401.5 84v7.78M458.5 538v-7.78M458.5 84v7.78M514.5 538v-7.78M514.5 84v7.78M571.5 538v-7.78M571.5 84v7.78M117 538.5h7.78M571 538.5h-7.78M117 486.5h7.78M571 486.5h-7.78M117 433.5h7.78M571 433.5h-7.78M117 381.5h7.78M571 381.5h-7.78M117 328.5h7.78M571 328.5h-7.78M117 276.5h7.78M571 276.5h-7.78M117 224.5h7.78M571 224.5h-7.78M117 171.5h7.78M571 171.5h-7.78M117 119.5h7.78M571 119.5h-7.78" stroke="#000" stroke-width="0.97" fill="none"/>
<text x="117.00" y="560.60" font-size="16.90" text-anchor="middle" textLength="40.31" lengthAdjust="spacingAndGlyphs" fill="#000">−0.2</text>
<text x="173.75" y="560.60" font-size="16.90" text-anchor="middle" textLength="26.40" lengthAdjust="spacingAndGlyphs" fill="#000">0.0</text>
<text x="230.50" y="560.60" font-size="16.90" text-anchor="middle" textLength="26.40" lengthAdjust="spacingAndGlyphs" fill="#000">0.2</text>
<text x="287.25" y="560.60" font-size="16.90" text-anchor="middle" textLength="26.40" lengthAdjust="spacingAndGlyphs" fill="#000">0.4</text>
<text x="344.00" y="560.60" font-size="16.90" text-anchor="middle" textLength="26.40" lengthAdjust="spacingAndGlyphs" fill="#000">0.6</text>
<text x="400.75" y="560.60" font-size="16.90" text-anchor="middle" textLength="26.40" lengthAdjust="spacingAndGlyphs" fill="#000">0.8</text>
<text x="457.50" y="560.60" font-size="16.90" text-anchor="middle" textLength="26.40" lengthAdjust="spacingAndGlyphs" fill="#000">1.0</text>
<text x="514.25" y="560.60" font-size="16.90" text-anchor="middle" textLength="26.40" lengthAdjust="spacingAndGlyphs" fill="#000">1.2</text>
<text x="571.00" y="560.60" font-size="16.90" text-anchor="middle" textLength="26.40" lengthAdjust="spacingAndGlyphs" fill="#000">1.4</text>
<text x="108.50" y="543.00" font-size="16.90" text-anchor="end" textLength="68.65" lengthAdjust="spacingAndGlyphs" fill="#000">0.00000</text>
<text x="108.50" y="490.62" font-size="16.90" text-anchor="end" textLength="68.65" lengthAdjust="spacingAndGlyphs" fill="#000">0.00003</text>
<text x="108.50" y="438.23" font-size="16.90" text-anchor="end" textLength="68.65" lengthAdjust="spacingAndGlyphs" fill="#000">0.00006</text>
<text x="108.50" y="385.85" font-size="16.90" text-anchor="end" textLength="68.65" lengthAdjust="spacingAndGlyphs" fill="#000">0.00009</text>
<text x="108.50" y="333.46" font-size="16.90" text-anchor="end" textLength="68.65" lengthAdjust="spacingAndGlyphs" fill="#000">0.00012</text>
<text x="108.50" y="281.08" font-size="16.90" text-anchor="end" textLength="68.65" lengthAdjust="spacingAndGlyphs" fill="#000">0.00015</text>
<text x="108.50" y="228.69" font-size="16.90" text-anchor="end" textLength="68.65" lengthAdjust="spacingAndGlyphs" fill="#000">0.00018</text>
<text x="108.50" y="176.31" font-size="16.90" text-anchor="end" textLength="68.65" lengthAdjust="spacingAndGlyphs" fill="#000">0.00021</text>
<text x="108.50" y="123.92" font-size="16.90" text-anchor="end" textLength="68.65" lengthAdjust="spacingAndGlyphs" fill="#000">0.00024</text>
<rect x="117" y="84" width="454" height="454" fill="none" stroke="#000" stroke-width="1.94"/>
<text x="344.00" y="73.80" font-size="23.75" text-anchor="middle" textLength="234.06" lengthAdjust="spacingAndGlyphs" fill="#000">Transverse pressure</text>
<path d="M673.5 84V538M749.5 84V538M824.5 84V538M900.5 84V538M976.5 84V538M1051.5 84V538M1127.5 84V538M673 538.5H1127M673 462.5H1127M673 387.5H1127M673 311.5H1127M673 235.5H1127M673 160.5H1127M673 84.5H1127" stroke="#000" stroke-width="0.97" stroke-dasharray="2.3 6.03" fill="none"/>
<path d="M673.5 538v-7.78M673.5 84v7.78M749.5 538v-7.78M749.5 84v7.78M824.5 538v-7.78M824.5 84v7.78M900.5 538v-7.78M900.5 84v7.78M976.5 538v-7.78M976.5 84v7.78M1051.5 538v-7.78M1051.5 84v7.78M1127.5 538v-7.78M1127.5 84v7.78M673 538.5h7.78M1127 538.5h-7.78M673 462.5h7.78M1127 462.5h-7.78M673 387.5h7.78M1127 387.5h-7.78M673 311.5h7.78M1127 311.5h-7.78M673 235.5h7.78M1127 235.5h-7.78M673 160.5h7.78M1127 160.5h-7.78M673 84.5h7.78M1127 84.5h-7.78" stroke="#000" stroke-width="0.97" fill="none"/>
<text x="673.00" y="560.60" font-size="16.90" text-anchor="middle" textLength="35.03" lengthAdjust="spacingAndGlyphs" fill="#000">−30</text>
<text x="748.67" y="560.60" font-size="16.90" text-anchor="middle" textLength="35.03" lengthAdjust="spacingAndGlyphs" fill="#000">−20</text>
<text x="824.33" y="560.60" font-size="16.90" text-anchor="middle" textLength="35.03" lengthAdjust="spacingAndGlyphs" fill="#000">−10</text>
<text x="900.00" y="560.60" font-size="16.90" text-anchor="middle" textLength="10.56" lengthAdjust="spacingAndGlyphs" fill="#000">0</text>
<text x="975.67" y="560.60" font-size="16.90" text-anchor="middle" textLength="21.12" lengthAdjust="spacingAndGlyphs" fill="#000">10</text>
<text x="1051.33" y="560.60" font-size="16.90" text-anchor="middle" textLength="21.12" lengthAdjust="spacingAndGlyphs" fill="#000">20</text>
<text x="1127.00" y="560.60" font-size="16.90" text-anchor="middle" textLength="21.12" lengthAdjust="spacingAndGlyphs" fill="#000">30</text>
<text x="664.50" y="543.00" font-size="16.90" text-anchor="end" textLength="35.03" lengthAdjust="spacingAndGlyphs" fill="#000">−30</text>
<text x="664.50" y="467.33" font-size="16.90" text-anchor="end" textLength="35.03" lengthAdjust="spacingAndGlyphs" fill="#000">−20</text>
<text x="664.50" y="391.67" font-size="16.90" text-anchor="end" textLength="35.03" lengthAdjust="spacingAndGlyphs" fill="#000">−10</text>
<text x="664.50" y="316.00" font-size="16.90" text-anchor="end" textLength="10.56" lengthAdjust="spacingAndGlyphs" fill="#000">0</text>
<text x="664.50" y="240.33" font-size="16.90" text-anchor="end" textLength="21.12" lengthAdjust="spacingAndGlyphs" fill="#000">10</text>
<text x="664.50" y="164.67" font-size="16.90" text-anchor="end" textLength="21.12" lengthAdjust="spacingAndGlyphs" fill="#000">20</text>
<text x="664.50" y="89.00" font-size="16.90" text-anchor="end" textLength="21.12" lengthAdjust="spacingAndGlyphs" fill="#000">30</text>
<rect x="673" y="84" width="454" height="454" fill="none" stroke="#000" stroke-width="1.94"/>
<text x="900.00" y="73.80" font-size="23.75" text-anchor="middle" textLength="364.38" lengthAdjust="spacingAndGlyphs" fill="#000">Hodogram(V2_V1 MVAB frame)</text>
<path d="M1267.5 84V538M1343.5 84V538M1418.5 84V538M1494.5 84V538M1570.5 84V538M1645.5 84V538M1229 538.5H1683M1229 462.5H1683M1229 387.5H1683M1229 311.5H1683M1229 235.5H1683M1229 160.5H1683M1229 84.5H1683" stroke="#000" stroke-width="0.97" stroke-dasharray="2.3 6.03" fill="none"/>
<path d="M1267.5 538v-7.78M1267.5 84v7.78M1343.5 538v-7.78M1343.5 84v7.78M1418.5 538v-7.78M1418.5 84v7.78M1494.5 538v-7.78M1494.5 84v7.78M1570.5 538v-7.78M1570.5 84v7.78M1645.5 538v-7.78M1645.5 84v7.78M1229 538.5h7.78M1683 538.5h-7.78M1229 462.5h7.78M1683 462.5h-7.78M1229 387.5h7.78M1683 387.5h-7.78M1229 311.5h7.78M1683 311.5h-7.78M1229 235.5h7.78M1683 235.5h-7.78M1229 160.5h7.78M1683 160.5h-7.78M1229 84.5h7.78M1683 84.5h-7.78" stroke="#000" stroke-width="0.97" fill="none"/>
<text x="1266.83" y="560.60" font-size="16.90" text-anchor="middle" textLength="35.03" lengthAdjust="spacingAndGlyphs" fill="#000">−20</text>
<text x="1342.50" y="560.60" font-size="16.90" text-anchor="middle" textLength="35.03" lengthAdjust="spacingAndGlyphs" fill="#000">−10</text>
<text x="1418.17" y="560.60" font-size="16.90" text-anchor="middle" textLength="10.56" lengthAdjust="spacingAndGlyphs" fill="#000">0</text>
<text x="1493.83" y="560.60" font-size="16.90" text-anchor="middle" textLength="21.12" lengthAdjust="spacingAndGlyphs" fill="#000">10</text>
<text x="1569.50" y="560.60" font-size="16.90" text-anchor="middle" textLength="21.12" lengthAdjust="spacingAndGlyphs" fill="#000">20</text>
<text x="1645.17" y="560.60" font-size="16.90" text-anchor="middle" textLength="21.12" lengthAdjust="spacingAndGlyphs" fill="#000">30</text>
<text x="1220.50" y="543.00" font-size="16.90" text-anchor="end" textLength="35.03" lengthAdjust="spacingAndGlyphs" fill="#000">−30</text>
<text x="1220.50" y="467.33" font-size="16.90" text-anchor="end" textLength="35.03" lengthAdjust="spacingAndGlyphs" fill="#000">−20</text>
<text x="1220.50" y="391.67" font-size="16.90" text-anchor="end" textLength="35.03" lengthAdjust="spacingAndGlyphs" fill="#000">−10</text>
<text x="1220.50" y="316.00" font-size="16.90" text-anchor="end" textLength="10.56" lengthAdjust="spacingAndGlyphs" fill="#000">0</text>
<text x="1220.50" y="240.33" font-size="16.90" text-anchor="end" textLength="21.12" lengthAdjust="spacingAndGlyphs" fill="#000">10</text>
<text x="1220.50" y="164.67" font-size="16.90" text-anchor="end" textLength="21.12" lengthAdjust="spacingAndGlyphs" fill="#000">20</text>
<text x="1220.50" y="89.00" font-size="16.90" text-anchor="end" textLength="21.12" lengthAdjust="spacingAndGlyphs" fill="#000">30</text>
<rect x="1229" y="84" width="454" height="454" fill="none" stroke="#000" stroke-width="1.94"/>
<text x="1456.00" y="73.80" font-size="23.75" text-anchor="middle" textLength="364.38" lengthAdjust="spacingAndGlyphs" fill="#000">Hodogram(V3_V1 MVAB frame)</text>
<path d="M178.5 1116v-7.78M178.5 662v7.78M255.5 1116v-7.78M255.5 662v7.78M332.5 1116v-7.78M332.5 662v7.78M409.5 1116v-7.78M409.5 662v7.78M486.5 1116v-7.78M486.5 662v7.78M563.5 1116v-7.78M563.5 662v7.78M117 1056.5h7.78M571 1056.5h-7.78M117 979.5h7.78M571 979.5h-7.78M117 902.5h7.78M571 902.5h-7.78M117 824.5h7.78M571 824.5h-7.78M117 747.5h7.78M571 747.5h-7.78M117 670.5h7.78M571 670.5h-7.78" stroke="#000" stroke-width="0.97" fill="none"/>
<text x="178.46" y="1138.60" font-size="16.90" text-anchor="middle" textLength="35.03" lengthAdjust="spacingAndGlyphs" fill="#000">−20</text>
<text x="255.27" y="1138.60" font-size="16.90" text-anchor="middle" textLength="35.03" lengthAdjust="spacingAndGlyphs" fill="#000">−10</text>
<text x="332.09" y="1138.60" font-size="16.90" text-anchor="middle" textLength="10.56" lengthAdjust="spacingAndGlyphs" fill="#000">0</text>
<text x="408.91" y="1138.60" font-size="16.90" text-anchor="middle" textLength="21.12" lengthAdjust="spacingAndGlyphs" fill="#000">10</text>
<text x="485.73" y="1138.60" font-size="16.90" text-anchor="middle" textLength="21.12" lengthAdjust="spacingAndGlyphs" fill="#000">20</text>
<text x="562.55" y="1138.60" font-size="16.90" text-anchor="middle" textLength="21.12" lengthAdjust="spacingAndGlyphs" fill="#000">30</text>
<text x="108.50" y="1061.45" font-size="16.90" text-anchor="end" textLength="35.03" lengthAdjust="spacingAndGlyphs" fill="#000">−20</text>
<text x="108.50" y="984.10" font-size="16.90" text-anchor="end" textLength="35.03" lengthAdjust="spacingAndGlyphs" fill="#000">−10</text>
<text x="108.50" y="906.76" font-size="16.90" text-anchor="end" textLength="10.56" lengthAdjust="spacingAndGlyphs" fill="#000">0</text>
<text x="108.50" y="829.42" font-size="16.90" text-anchor="end" textLength="21.12" lengthAdjust="spacingAndGlyphs" fill="#000">10</text>
<text x="108.50" y="752.08" font-size="16.90" text-anchor="end" textLength="21.12" lengthAdjust="spacingAndGlyphs" fill="#000">20</text>
<text x="108.50" y="674.73" font-size="16.90" text-anchor="end" textLength="21.12" lengthAdjust="spacingAndGlyphs" fill="#000">30</text>
<rect x="117" y="662" width="454" height="454" fill="none" stroke="#000" stroke-width="1.94"/>
<text x="344.00" y="651.80" font-size="23.75" text-anchor="middle" textLength="117.44" lengthAdjust="spacingAndGlyphs" fill="#000">WalenTest</text>
<path d="M673.5 662V1116M730.5 662V1116M787.5 662V1116M843.5 662V1116M900.5 662V1116M957.5 662V1116M1014.5 662V1116M1070.5 662V1116M1127.5 662V1116M673 1116.5H1127M673 1059.5H1127M673 1003.5H1127M673 946.5H1127M673 889.5H1127M673 832.5H1127M673 776.5H1127M673 719.5H1127M673 662.5H1127" stroke="#000" stroke-width="0.97" stroke-dasharray="2.3 6.03" fill="none"/>
<path d="M673.5 1116v-7.78M673.5 662v7.78M730.5 1116v-7.78M730.5 662v7.78M787.5 1116v-7.78M787.5 662v7.78M843.5 1116v-7.78M843.5 662v7.78M900.5 1116v-7.78M900.5 662v7.78M957.5 1116v-7.78M957.5 662v7.78M1014.5 1116v-7.78M1014.5 662v7.78M1070.5 1116v-7.78M1070.5 662v7.78M1127.5 1116v-7.78M1127.5 662v7.78M673 1116.5h7.78M1127 1116.5h-7.78M673 1059.5h7.78M1127 1059.5h-7.78M673 1003.5h7.78M1127 1003.5h-7.78M673 946.5h7.78M1127 946.5h-7.78M673 889.5h7.78M1127 889.5h-7.78M673 832.5h7.78M1127 832.5h-7.78M673 776.5h7.78M1127 776.5h-7.78M673 719.5h7.78M1127 719.5h-7.78M673 662.5h7.78M1127 662.5h-7.78" stroke="#000" stroke-width="0.97" fill="none"/>
<text x="673.00" y="1138.60" font-size="16.90" text-anchor="middle" textLength="35.03" lengthAdjust="spacingAndGlyphs" fill="#000">−20</text>
<text x="729.75" y="1138.60" font-size="16.90" text-anchor="middle" textLength="35.03" lengthAdjust="spacingAndGlyphs" fill="#000">−15</text>
<text x="786.50" y="1138.60" font-size="16.90" text-anchor="middle" textLength="35.03" lengthAdjust="spacingAndGlyphs" fill="#000">−10</text>
<text x="843.25" y="1138.60" font-size="16.90" text-anchor="middle" textLength="24.47" lengthAdjust="spacingAndGlyphs" fill="#000">−5</text>
<text x="900.00" y="1138.60" font-size="16.90" text-anchor="middle" textLength="10.56" lengthAdjust="spacingAndGlyphs" fill="#000">0</text>
<text x="956.75" y="1138.60" font-size="16.90" text-anchor="middle" textLength="10.56" lengthAdjust="spacingAndGlyphs" fill="#000">5</text>
<text x="1013.50" y="1138.60" font-size="16.90" text-anchor="middle" textLength="21.12" lengthAdjust="spacingAndGlyphs" fill="#000">10</text>
<text x="1070.25" y="1138.60" font-size="16.90" text-anchor="middle" textLength="21.12" lengthAdjust="spacingAndGlyphs" fill="#000">15</text>
<text x="1127.00" y="1138.60" font-size="16.90" text-anchor="middle" textLength="21.12" lengthAdjust="spacingAndGlyphs" fill="#000">20</text>
<text x="664.50" y="1121.00" font-size="16.90" text-anchor="end" textLength="35.03" lengthAdjust="spacingAndGlyphs" fill="#000">−20</text>
<text x="664.50" y="1064.25" font-size="16.90" text-anchor="end" textLength="35.03" lengthAdjust="spacingAndGlyphs" fill="#000">−15</text>
<text x="664.50" y="1007.50" font-size="16.90" text-anchor="end" textLength="35.03" lengthAdjust="spacingAndGlyphs" fill="#000">−10</text>
<text x="664.50" y="950.75" font-size="16.90" text-anchor="end" textLength="24.47" lengthAdjust="spacingAndGlyphs" fill="#000">−5</text>
<text x="664.50" y="894.00" font-size="16.90" text-anchor="end" textLength="10.56" lengthAdjust="spacingAndGlyphs" fill="#000">0</text>
<text x="664.50" y="837.25" font-size="16.90" text-anchor="end" textLength="10.56" lengthAdjust="spacingAndGlyphs" fill="#000">5</text>
<text x="664.50" y="780.50" font-size="16.90" text-anchor="end" textLength="21.12" lengthAdjust="spacingAndGlyphs" fill="#000">10</text>
<text x="664.50" y="723.75" font-size="16.90" text-anchor="end" textLength="21.12" lengthAdjust="spacingAndGlyphs" fill="#000">15</text>
<text x="664.50" y="667.00" font-size="16.90" text-anchor="end" textLength="21.12" lengthAdjust="spacingAndGlyphs" fill="#000">20</text>
<rect x="673" y="662" width="454" height="454" fill="none" stroke="#000" stroke-width="1.94"/>
<path d="M1257.5 662V1116M1314.5 662V1116M1371.5 662V1116M1428.5 662V1116M1484.5 662V1116M1541.5 662V1116M1598.5 662V1116M1655.5 662V1116M1229 1116.5H1683M1229 1059.5H1683M1229 1003.5H1683M1229 946.5H1683M1229 889.5H1683M1229 832.5H1683M1229 776.5H1683M1229 719.5H1683M1229 662.5H1683" stroke="#000" stroke-width="0.97" stroke-dasharray="2.3 6.03" fill="none"/>
<path d="M1257.5 1116v-7.78M1257.5 662v7.78M1314.5 1116v-7.78M1314.5 662v7.78M1371.5 1116v-7.78M1371.5 662v7.78M1428.5 1116v-7.78M1428.5 662v7.78M1484.5 1116v-7.78M1484.5 662v7.78M1541.5 1116v-7.78M1541.5 662v7.78M1598.5 1116v-7.78M1598.5 662v7.78M1655.5 1116v-7.78M1655.5 662v7.78M1229 1116.5h7.78M1683 1116.5h-7.78M1229 1059.5h7.78M1683 1059.5h-7.78M1229 1003.5h7.78M1683 1003.5h-7.78M1229 946.5h7.78M1683 946.5h-7.78M1229 889.5h7.78M1683 889.5h-7.78M1229 832.5h7.78M1683 832.5h-7.78M1229 776.5h7.78M1683 776.5h-7.78M1229 719.5h7.78M1683 719.5h-7.78M1229 662.5h7.78M1683 662.5h-7.78" stroke="#000" stroke-width="0.97" fill="none"/>
<text x="1257.38" y="1138.60" font-size="16.90" text-anchor="middle" textLength="35.03" lengthAdjust="spacingAndGlyphs" fill="#000">−15</text>
<text x="1314.12" y="1138.60" font-size="16.90" text-anchor="middle" textLength="35.03" lengthAdjust="spacingAndGlyphs" fill="#000">−10</text>
<text x="1370.88" y="1138.60" font-size="16.90" text-anchor="middle" textLength="24.47" lengthAdjust="spacingAndGlyphs" fill="#000">−5</text>
<text x="1427.62" y="1138.60" font-size="16.90" text-anchor="middle" textLength="10.56" lengthAdjust="spacingAndGlyphs" fill="#000">0</text>
<text x="1484.38" y="1138.60" font-size="16.90" text-anchor="middle" textLength="10.56" lengthAdjust="spacingAndGlyphs" fill="#000">5</text>
<text x="1541.12" y="1138.60" font-size="16.90" text-anchor="middle" textLength="21.12" lengthAdjust="spacingAndGlyphs" fill="#000">10</text>
<text x="1597.88" y="1138.60" font-size="16.90" text-anchor="middle" textLength="21.12" lengthAdjust="spacingAndGlyphs" fill="#000">15</text>
<text x="1654.62" y="1138.60" font-size="16.90" text-anchor="middle" textLength="21.12" lengthAdjust="spacingAndGlyphs" fill="#000">20</text>
<text x="1220.50" y="1121.00" font-size="16.90" text-anchor="end" textLength="35.03" lengthAdjust="spacingAndGlyphs" fill="#000">−20</text>
<text x="1220.50" y="1064.25" font-size="16.90" text-anchor="end" textLength="35.03" lengthAdjust="spacingAndGlyphs" fill="#000">−15</text>
<text x="1220.50" y="1007.50" font-size="16.90" text-anchor="end" textLength="35.03" lengthAdjust="spacingAndGlyphs" fill="#000">−10</text>
<text x="1220.50" y="950.75" font-size="16.90" text-anchor="end" textLength="24.47" lengthAdjust="spacingAndGlyphs" fill="#000">−5</text>
<text x="1220.50" y="894.00" font-size="16.90" text-anchor="end" textLength="10.56" lengthAdjust="spacingAndGlyphs" fill="#000">0</text>
<text x="1220.50" y="837.25" font-size="16.90" text-anchor="end" textLength="10.56" lengthAdjust="spacingAndGlyphs" fill="#000">5</text>
<text x="1220.50" y="780.50" font-size="16.90" text-anchor="end" textLength="21.12" lengthAdjust="spacingAndGlyphs" fill="#000">10</text>
<text x="1220.50" y="723.75" font-size="16.90" text-anchor="end" textLength="21.12" lengthAdjust="spacingAndGlyphs" fill="#000">15</text>
<text x="1220.50" y="667.00" font-size="16.90" text-anchor="end" textLength="21.12" lengthAdjust="spacingAndGlyphs" fill="#000">20</text>
<rect x="1229" y="662" width="454" height="454" fill="none" stroke="#000" stroke-width="1.94"/>
<g clip-path="url(#c_p1)">
<path d="M549.3 148.9L543.3 195.4L538.2 142.1L534.2 160.0L529.1 166.0L521.1 175.4L512.2 193.0L504.5 173.4L497.2 135.3L490.3 212.1L486.4 183.1L483.1 172.0L476.1 184.0L469.3 211.0L460.9 215.2L454.1 189.4L445.4 216.4L436.5 236.0L424.2 262.9L410.0 249.2L398.4 240.3L382.4 285.2L366.5 264.2L351.3 260.2L334.1 299.0L313.3 310.5L292.1 340.0L272.1 273.3L251.5 298.2L229.4 335.0L208.2 346.2L190.6 310.5L179.1 274.5L181.6 267.9L179.9 263.0L180.7 295.0L173.9 307.2L175.5 258.9L174.2 231.1L161.1 258.1L153.4 287.2L159.5 301.2L169.3 317.5L176.7 311.3" fill="none" stroke="#ff0000" stroke-width="1.94" stroke-linejoin="round" stroke-linecap="butt"/>
<circle cx="549.3" cy="148.9" r="5.83" fill="#ff0000" stroke="#000" stroke-width="0.97"/><circle cx="543.3" cy="195.4" r="5.83" fill="#ff0000" stroke="#000" stroke-width="0.97"/><circle cx="538.2" cy="142.1" r="5.83" fill="#ff0000" stroke="#000" stroke-width="0.97"/><circle cx="534.2" cy="160.0" r="5.83" fill="#ff0000" stroke="#000" stroke-width="0.97"/><circle cx="529.1" cy="166.0" r="5.83" fill="#ff0000" stroke="#000" stroke-width="0.97"/><circle cx="521.1" cy="175.4" r="5.83" fill="#ff0000" stroke="#000" stroke-width="0.97"/><circle cx="512.2" cy="193.0" r="5.83" fill="#ff0000" stroke="#000" stroke-width="0.97"/><circle cx="504.5" cy="173.4" r="5.83" fill="#ff0000" stroke="#000" stroke-width="0.97"/><circle cx="497.2" cy="135.3" r="5.83" fill="#ff0000" stroke="#000" stroke-width="0.97"/><circle cx="490.3" cy="212.1" r="5.83" fill="#ff0000" stroke="#000" stroke-width="0.97"/><circle cx="486.4" cy="183.1" r="5.83" fill="#ff0000" stroke="#000" stroke-width="0.97"/><circle cx="483.1" cy="172.0" r="5.83" fill="#ff0000" stroke="#000" stroke-width="0.97"/><circle cx="476.1" cy="184.0" r="5.83" fill="#ff0000" stroke="#000" stroke-width="0.97"/><circle cx="469.3" cy="211.0" r="5.83" fill="#ff0000" stroke="#000" stroke-width="0.97"/><circle cx="460.9" cy="215.2" r="5.83" fill="#ff0000" stroke="#000" stroke-width="0.97"/><circle cx="454.1" cy="189.4" r="5.83" fill="#ff0000" stroke="#000" stroke-width="0.97"/><circle cx="445.4" cy="216.4" r="5.83" fill="#ff0000" stroke="#000" stroke-width="0.97"/><circle cx="436.5" cy="236.0" r="5.83" fill="#ff0000" stroke="#000" stroke-width="0.97"/><circle cx="424.2" cy="262.9" r="5.83" fill="#ff0000" stroke="#000" stroke-width="0.97"/><circle cx="410.0" cy="249.2" r="5.83" fill="#ff0000" stroke="#000" stroke-width="0.97"/><circle cx="398.4" cy="240.3" r="5.83" fill="#ff0000" stroke="#000" stroke-width="0.97"/><circle cx="382.4" cy="285.2" r="5.83" fill="#ff0000" stroke="#000" stroke-width="0.97"/><circle cx="366.5" cy="264.2" r="5.83" fill="#ff0000" stroke="#000" stroke-width="0.97"/><circle cx="351.3" cy="260.2" r="5.83" fill="#ff0000" stroke="#000" stroke-width="0.97"/><circle cx="334.1" cy="299.0" r="5.83" fill="#ff0000" stroke="#000" stroke-width="0.97"/><circle cx="313.3" cy="310.5" r="5.83" fill="#ff0000" stroke="#000" stroke-width="0.97"/><circle cx="292.1" cy="340.0" r="5.83" fill="#ff0000" stroke="#000" stroke-width="0.97"/><circle cx="272.1" cy="273.3" r="5.83" fill="#ff0000" stroke="#000" stroke-width="0.97"/><circle cx="251.5" cy="298.2" r="5.83" fill="#ff0000" stroke="#000" stroke-width="0.97"/><circle cx="229.4" cy="335.0" r="5.83" fill="#ff0000" stroke="#000" stroke-width="0.97"/><circle cx="208.2" cy="346.2" r="5.83" fill="#ff0000" stroke="#000" stroke-width="0.97"/><circle cx="190.6" cy="310.5" r="5.83" fill="#ff0000" stroke="#000" stroke-width="0.97"/><circle cx="179.1" cy="274.5" r="5.83" fill="#ff0000" stroke="#000" stroke-width="0.97"/><circle cx="181.6" cy="267.9" r="5.83" fill="#ff0000" stroke="#000" stroke-width="0.97"/><circle cx="179.9" cy="263.0" r="5.83" fill="#ff0000" stroke="#000" stroke-width="0.97"/><circle cx="180.7" cy="295.0" r="5.83" fill="#ff0000" stroke="#000" stroke-width="0.97"/><circle cx="173.9" cy="307.2" r="5.83" fill="#ff0000" stroke="#000" stroke-width="0.97"/><circle cx="175.5" cy="258.9" r="5.83" fill="#ff0000" stroke="#000" stroke-width="0.97"/><circle cx="174.2" cy="231.1" r="5.83" fill="#ff0000" stroke="#000" stroke-width="0.97"/><circle cx="161.1" cy="258.1" r="5.83" fill="#ff0000" stroke="#000" stroke-width="0.97"/><circle cx="153.4" cy="287.2" r="5.83" fill="#ff0000" stroke="#000" stroke-width="0.97"/><circle cx="159.5" cy="301.2" r="5.83" fill="#ff0000" stroke="#000" stroke-width="0.97"/><circle cx="169.3" cy="317.5" r="5.83" fill="#ff0000" stroke="#000" stroke-width="0.97"/><circle cx="176.7" cy="311.3" r="5.83" fill="#ff0000" stroke="#000" stroke-width="0.97"/>
<path d="M159.1 316.6L184.0 306.4L207.3 294.1L231.5 338.8L257.4 331.8L282.2 323.1L305.2 301.8L326.4 277.3L344.1 252.1L358.4 236.8L374.2 248.9L389.5 241.2L404.4 225.5L420.3 272.8L433.6 268.5L438.6 284.0L433.4 257.0L436.6 220.5L440.4 253.0L438.6 192.4L441.5 258.0L437.5 200.0L442.0 250.0L436.5 208.0L435.4 159.4L433.4 257.0L437.7 178.2L440.4 175.5L444.4 154.3L447.4 162.3L454.3 174.0L465.4 180.0L479.2 209.6L495.1 230.1L507.1 155.8L512.2 131.9L516.0 158.3L524.1 195.9L537.3 173.7L546.4 160.9L549.3 149.8L552.7 171.1L555.6 188.2L555.2 165.2L555.6 145.5L555.6 131.0L556.1 106.2" fill="none" stroke="#0000ff" stroke-width="1.94" stroke-linejoin="round" stroke-linecap="butt"/>
<path d="M159.1 310.8L153.3 322.4H164.9ZM184.0 300.6L178.2 312.2H189.8ZM207.3 288.3L201.5 299.9H213.1ZM231.5 333.0L225.7 344.6H237.3ZM257.4 326.0L251.6 337.6H263.2ZM282.2 317.3L276.4 328.9H288.0ZM305.2 296.0L299.4 307.6H311.0ZM326.4 271.5L320.6 283.1H332.2ZM344.1 246.3L338.3 257.9H349.9ZM358.4 231.0L352.6 242.6H364.2ZM374.2 243.1L368.4 254.7H380.0ZM389.5 235.4L383.7 247.0H395.3ZM404.4 219.7L398.6 231.3H410.2ZM420.3 267.0L414.5 278.6H426.1ZM433.6 262.7L427.8 274.3H439.4ZM438.6 278.2L432.8 289.8H444.4ZM433.4 251.2L427.6 262.8H439.2ZM436.6 214.7L430.8 226.3H442.4ZM440.4 247.2L434.6 258.8H446.2ZM438.6 186.6L432.8 198.2H444.4ZM441.5 252.2L435.7 263.8H447.3ZM437.5 194.2L431.7 205.8H443.3ZM442.0 244.2L436.2 255.8H447.8ZM436.5 202.2L430.7 213.8H442.3ZM435.4 153.6L429.6 165.2H441.2ZM433.4 251.2L427.6 262.8H439.2ZM437.7 172.4L431.9 184.0H443.5ZM440.4 169.7L434.6 181.3H446.2ZM444.4 148.5L438.6 160.1H450.2ZM447.4 156.5L441.6 168.1H453.2ZM454.3 168.2L448.5 179.8H460.1ZM465.4 174.2L459.6 185.8H471.2ZM479.2 203.8L473.4 215.4H485.0ZM495.1 224.3L489.3 235.9H500.9ZM507.1 150.0L501.3 161.6H512.9ZM512.2 126.1L506.4 137.7H518.0ZM516.0 152.5L510.2 164.1H521.8ZM524.1 190.1L518.3 201.7H529.9ZM537.3 167.9L531.5 179.5H543.1ZM546.4 155.1L540.6 166.7H552.2ZM549.3 144.0L543.5 155.6H555.1ZM552.7 165.3L546.9 176.9H558.5ZM555.6 182.4L549.8 194.0H561.4ZM555.2 159.4L549.4 171.0H561.0ZM555.6 139.7L549.8 151.3H561.4ZM555.6 125.2L549.8 136.8H561.4ZM556.1 100.4L550.3 112.0H561.9Z" fill="#0000ff" stroke="#000" stroke-width="0.97" stroke-linejoin="miter"/>
</g>
<rect x="124.0" y="91.1" width="151.0" height="48.4" fill="#fff" stroke="#000" stroke-width="1.94"/>
<path d="M135.3 104.1H155.5" stroke="#ff0000" stroke-width="1.94"/>
<circle cx="135.3" cy="104.1" r="5.83" fill="#ff0000" stroke="#000" stroke-width="0.97"/><circle cx="155.5" cy="104.1" r="5.83" fill="#ff0000" stroke="#000" stroke-width="0.97"/>
<text x="170.60" y="108.70" font-size="15.27" text-anchor="start" textLength="95.02" lengthAdjust="spacingAndGlyphs" fill="#000">1st half path</text>
<path d="M135.3 127.1H155.5" stroke="#0000ff" stroke-width="1.94"/>
<path d="M135.3 121.3L129.5 132.9H141.1ZM155.5 121.3L149.7 132.9H161.3Z" fill="#0000ff" stroke="#000" stroke-width="0.97" stroke-linejoin="miter"/>
<text x="171.10" y="131.70" font-size="15.27" text-anchor="start" textLength="100.35" lengthAdjust="spacingAndGlyphs" fill="#000">2nd half path</text>
<text x="344.00" y="590.50" font-size="16.90" text-anchor="middle" textLength="61.17" lengthAdjust="spacingAndGlyphs" fill="#000">A (T·m)</text>
<text x="26.00" y="313.50" font-size="16.90" text-anchor="middle" textLength="59.43" lengthAdjust="spacingAndGlyphs" fill="#000" transform="rotate(-90 26.00 313.50)">Pt(nPa)</text>
<g clip-path="url(#c_p2)">
<path d="M703.4 146.3L727.3 132.4L756.4 118.4L701.2 206.4L681.2 261.4L706.0 250.5L706.3 238.5L751.3 281.6L759.3 317.1L770.4 324.4L772.3 313.2L821.3 185.4L848.1 143.5L813.6 165.4L866.6 215.5L886.8 237.8L893.8 247.8L897.3 158.9L877.3 468.3L876.8 489.6L880.6 495.3L897.0 517.8L904.5 521.2L904.5 525.5M886.6 107.3L790.2 140.3L966.4 209.3L1083.0 212.4L1065.4 207.3L1017.3 183.0L1038.3 184.2L952.4 235.4L924.7 247.8L902.8 262.2L893.8 247.8L875.1 530.3L872.6 526.3L865.7 510.5L880.6 513.2L897.0 517.8M886.6 107.3L1012.1 176.2L919.6 197.9M989.6 117.2L953.2 115.0L892.6 398.2L893.0 398.7L872.6 526.3M989.6 117.2L816.2 430.3L799.1 499.0L786.6 484.1L786.3 478.5L781.2 475.1L767.5 450.3L733.3 400.4L736.4 422.6L741.4 434.4L745.3 442.1L807.6 485.3L815.3 499.9L820.5 504.6L837.0 516.1M741.4 434.4L837.0 516.1M756.4 444.3L767.5 450.3M799.1 499.0L811.4 507.2L838.4 528.1L875.1 530.3M933.7 221.8L930.1 289.3L940.4 333.3L1047.5 324.3L1112.4 345.3L1095.3 394.3L1046.3 475.1L1021.2 511.5L1068.2 415.6L1045.1 449.5L1029.2 436.1L985.1 446.6L978.3 411.4L1047.5 324.3L1058.3 317.4L927.2 512.3L945.5 503.3L980.5 485.3L900.6 499.4L926.4 475.4L933.6 431.2L892.6 415.3L892.2 415.6M933.7 221.8L902.8 262.2M968.6 381.1L933.6 431.2M965.7 394.5L939.5 414.1L876.8 489.6M903.3 502.8L931.5 495.3M896.8 517.8L904.5 521.2" fill="none" stroke="#0000ff" stroke-width="1.94" stroke-linejoin="round"/>
<circle cx="703.4" cy="146.3" r="3.9" fill="#0000ff"/><circle cx="727.3" cy="132.4" r="3.9" fill="#0000ff"/><circle cx="756.4" cy="118.4" r="3.9" fill="#0000ff"/><circle cx="701.2" cy="206.4" r="3.9" fill="#0000ff"/><circle cx="681.2" cy="261.4" r="3.9" fill="#0000ff"/><circle cx="706.0" cy="250.5" r="3.9" fill="#0000ff"/><circle cx="706.3" cy="238.5" r="3.9" fill="#0000ff"/><circle cx="751.3" cy="281.6" r="3.9" fill="#0000ff"/><circle cx="759.3" cy="317.1" r="3.9" fill="#0000ff"/><circle cx="770.4" cy="324.4" r="3.9" fill="#0000ff"/><circle cx="772.3" cy="313.2" r="3.9" fill="#0000ff"/><circle cx="821.3" cy="185.4" r="3.9" fill="#0000ff"/><circle cx="848.1" cy="143.5" r="3.9" fill="#0000ff"/><circle cx="813.6" cy="165.4" r="3.9" fill="#0000ff"/><circle cx="866.6" cy="215.5" r="3.9" fill="#0000ff"/><circle cx="886.8" cy="237.8" r="3.9" fill="#0000ff"/><circle cx="893.8" cy="247.8" r="3.9" fill="#0000ff"/><circle cx="897.3" cy="158.9" r="3.9" fill="#0000ff"/><circle cx="877.3" cy="468.3" r="3.9" fill="#0000ff"/><circle cx="876.8" cy="489.6" r="3.9" fill="#0000ff"/><circle cx="880.6" cy="495.3" r="3.9" fill="#0000ff"/><circle cx="897.0" cy="517.8" r="3.9" fill="#0000ff"/><circle cx="904.5" cy="521.2" r="3.9" fill="#0000ff"/><circle cx="904.5" cy="525.5" r="3.9" fill="#0000ff"/><circle cx="886.6" cy="107.3" r="3.9" fill="#0000ff"/><circle cx="790.2" cy="140.3" r="3.9" fill="#0000ff"/><circle cx="966.4" cy="209.3" r="3.9" fill="#0000ff"/><circle cx="1083.0" cy="212.4" r="3.9" fill="#0000ff"/><circle cx="1065.4" cy="207.3" r="3.9" fill="#0000ff"/><circle cx="1017.3" cy="183.0" r="3.9" fill="#0000ff"/><circle cx="1038.3" cy="184.2" r="3.9" fill="#0000ff"/><circle cx="952.4" cy="235.4" r="3.9" fill="#0000ff"/><circle cx="924.7" cy="247.8" r="3.9" fill="#0000ff"/><circle cx="902.8" cy="262.2" r="3.9" fill="#0000ff"/><circle cx="875.1" cy="530.3" r="3.9" fill="#0000ff"/><circle cx="872.6" cy="526.3" r="3.9" fill="#0000ff"/><circle cx="865.7" cy="510.5" r="3.9" fill="#0000ff"/><circle cx="880.6" cy="513.2" r="3.9" fill="#0000ff"/><circle cx="1012.1" cy="176.2" r="3.9" fill="#0000ff"/><circle cx="919.6" cy="197.9" r="3.9" fill="#0000ff"/><circle cx="989.6" cy="117.2" r="3.9" fill="#0000ff"/><circle cx="953.2" cy="115.0" r="3.9" fill="#0000ff"/><circle cx="892.6" cy="398.2" r="3.9" fill="#0000ff"/><circle cx="893.0" cy="398.7" r="3.9" fill="#0000ff"/><circle cx="816.2" cy="430.3" r="3.9" fill="#0000ff"/><circle cx="799.1" cy="499.0" r="3.9" fill="#0000ff"/><circle cx="786.6" cy="484.1" r="3.9" fill="#0000ff"/><circle cx="786.3" cy="478.5" r="3.9" fill="#0000ff"/><circle cx="781.2" cy="475.1" r="3.9" fill="#0000ff"/><circle cx="767.5" cy="450.3" r="3.9" fill="#0000ff"/><circle cx="733.3" cy="400.4" r="3.9" fill="#0000ff"/><circle cx="736.4" cy="422.6" r="3.9" fill="#0000ff"/><circle cx="741.4" cy="434.4" r="3.9" fill="#0000ff"/><circle cx="745.3" cy="442.1" r="3.9" fill="#0000ff"/><circle cx="807.6" cy="485.3" r="3.9" fill="#0000ff"/><circle cx="815.3" cy="499.9" r="3.9" fill="#0000ff"/><circle cx="820.5" cy="504.6" r="3.9" fill="#0000ff"/><circle cx="837.0" cy="516.1" r="3.9" fill="#0000ff"/><circle cx="756.4" cy="444.3" r="3.9" fill="#0000ff"/><circle cx="811.4" cy="507.2" r="3.9" fill="#0000ff"/><circle cx="838.4" cy="528.1" r="3.9" fill="#0000ff"/><circle cx="933.7" cy="221.8" r="3.9" fill="#0000ff"/><circle cx="930.1" cy="289.3" r="3.9" fill="#0000ff"/><circle cx="940.4" cy="333.3" r="3.9" fill="#0000ff"/><circle cx="1047.5" cy="324.3" r="3.9" fill="#0000ff"/><circle cx="1112.4" cy="345.3" r="3.9" fill="#0000ff"/><circle cx="1095.3" cy="394.3" r="3.9" fill="#0000ff"/><circle cx="1046.3" cy="475.1" r="3.9" fill="#0000ff"/><circle cx="1021.2" cy="511.5" r="3.9" fill="#0000ff"/><circle cx="1068.2" cy="415.6" r="3.9" fill="#0000ff"/><circle cx="1045.1" cy="449.5" r="3.9" fill="#0000ff"/><circle cx="1029.2" cy="436.1" r="3.9" fill="#0000ff"/><circle cx="985.1" cy="446.6" r="3.9" fill="#0000ff"/><circle cx="978.3" cy="411.4" r="3.9" fill="#0000ff"/><circle cx="1058.3" cy="317.4" r="3.9" fill="#0000ff"/><circle cx="927.2" cy="512.3" r="3.9" fill="#0000ff"/><circle cx="945.5" cy="503.3" r="3.9" fill="#0000ff"/><circle cx="980.5" cy="485.3" r="3.9" fill="#0000ff"/><circle cx="900.6" cy="499.4" r="3.9" fill="#0000ff"/><circle cx="926.4" cy="475.4" r="3.9" fill="#0000ff"/><circle cx="933.6" cy="431.2" r="3.9" fill="#0000ff"/><circle cx="892.6" cy="415.3" r="3.9" fill="#0000ff"/><circle cx="892.2" cy="415.6" r="3.9" fill="#0000ff"/><circle cx="968.6" cy="381.1" r="3.9" fill="#0000ff"/><circle cx="965.7" cy="394.5" r="3.9" fill="#0000ff"/><circle cx="939.5" cy="414.1" r="3.9" fill="#0000ff"/><circle cx="903.3" cy="502.8" r="3.9" fill="#0000ff"/><circle cx="931.5" cy="495.3" r="3.9" fill="#0000ff"/><circle cx="896.8" cy="517.8" r="3.9" fill="#0000ff"/>
<path d="M886.3 239.4L860.7 268.3L832.6 278.6L809.1 289.8L785.2 316.6L770.9 346.1L790.6 349.5L808.5 352.1L820.8 364.9L827.3 369.2L829.0 371.7L835.0 376.9L840.0 382.0L843.5 384.6M820.8 364.9L869.1 381.1L902.4 393.6L874.3 415.3L845.2 434.4L890.5 419.6L935.3 403.3L904.5 392.2L913.9 374.3L919.0 372.6L924.2 374.3L935.3 374.3L949.8 373.5L956.6 376.4L952.9 335.0L959.2 344.8L952.4 346.1L935.8 345.3L929.3 336.7L928.4 356.4L941.2 362.4L949.8 373.5M913.9 374.3L918.5 339.3L919.2 299.1L919.2 272.2L921.2 256.7L927.2 266.2L935.7 245.3L945.6 229.8L943.6 208.9L938.1 211.9L930.2 220.4L916.2 227.8L908.8 233.8L904.8 236.8L899.3 248.8L893.8 257.7L888.8 250.7L887.3 239.3L886.8 246.3L874.4 270.2L863.4 277.1L829.0 288.4M829.0 288.4L863.2 277.6L886.2 270.1L909.7 243.3L926.7 239.8L952.6 235.3L919.7 244.8L913.7 251.7L912.7 254.7M874.3 269.6L865.7 289.3L856.3 315.4L871.4 306.3L881.6 299.5L894.8 283.3L952.6 235.3M855.9 315.0L865.4 289.1L876.9 277.6L886.3 270.2L900.8 255.7M947.6 282.1L944.6 214.9L945.6 229.8M947.6 282.1L935.3 320.0L929.3 336.7M932.2 292.1L943.6 208.9M932.2 292.1L928.4 320.0L928.4 356.4M899.3 248.8L921.7 230.8" fill="none" stroke="#ff0000" stroke-width="1.94" stroke-linejoin="round"/>
<circle cx="886.3" cy="239.4" r="3.9" fill="#ff0000"/><circle cx="860.7" cy="268.3" r="3.9" fill="#ff0000"/><circle cx="832.6" cy="278.6" r="3.9" fill="#ff0000"/><circle cx="809.1" cy="289.8" r="3.9" fill="#ff0000"/><circle cx="785.2" cy="316.6" r="3.9" fill="#ff0000"/><circle cx="770.9" cy="346.1" r="3.9" fill="#ff0000"/><circle cx="790.6" cy="349.5" r="3.9" fill="#ff0000"/><circle cx="808.5" cy="352.1" r="3.9" fill="#ff0000"/><circle cx="820.8" cy="364.9" r="3.9" fill="#ff0000"/><circle cx="827.3" cy="369.2" r="3.9" fill="#ff0000"/><circle cx="829.0" cy="371.7" r="3.9" fill="#ff0000"/><circle cx="835.0" cy="376.9" r="3.9" fill="#ff0000"/><circle cx="840.0" cy="382.0" r="3.9" fill="#ff0000"/><circle cx="843.5" cy="384.6" r="3.9" fill="#ff0000"/><circle cx="869.1" cy="381.1" r="3.9" fill="#ff0000"/><circle cx="902.4" cy="393.6" r="3.9" fill="#ff0000"/><circle cx="874.3" cy="415.3" r="3.9" fill="#ff0000"/><circle cx="845.2" cy="434.4" r="3.9" fill="#ff0000"/><circle cx="890.5" cy="419.6" r="3.9" fill="#ff0000"/><circle cx="935.3" cy="403.3" r="3.9" fill="#ff0000"/><circle cx="904.5" cy="392.2" r="3.9" fill="#ff0000"/><circle cx="913.9" cy="374.3" r="3.9" fill="#ff0000"/><circle cx="919.0" cy="372.6" r="3.9" fill="#ff0000"/><circle cx="924.2" cy="374.3" r="3.9" fill="#ff0000"/><circle cx="935.3" cy="374.3" r="3.9" fill="#ff0000"/><circle cx="949.8" cy="373.5" r="3.9" fill="#ff0000"/><circle cx="956.6" cy="376.4" r="3.9" fill="#ff0000"/><circle cx="952.9" cy="335.0" r="3.9" fill="#ff0000"/><circle cx="959.2" cy="344.8" r="3.9" fill="#ff0000"/><circle cx="952.4" cy="346.1" r="3.9" fill="#ff0000"/><circle cx="935.8" cy="345.3" r="3.9" fill="#ff0000"/><circle cx="929.3" cy="336.7" r="3.9" fill="#ff0000"/><circle cx="928.4" cy="356.4" r="3.9" fill="#ff0000"/><circle cx="941.2" cy="362.4" r="3.9" fill="#ff0000"/><circle cx="918.5" cy="339.3" r="3.9" fill="#ff0000"/><circle cx="919.2" cy="299.1" r="3.9" fill="#ff0000"/><circle cx="919.2" cy="272.2" r="3.9" fill="#ff0000"/><circle cx="921.2" cy="256.7" r="3.9" fill="#ff0000"/><circle cx="927.2" cy="266.2" r="3.9" fill="#ff0000"/><circle cx="935.7" cy="245.3" r="3.9" fill="#ff0000"/><circle cx="945.6" cy="229.8" r="3.9" fill="#ff0000"/><circle cx="943.6" cy="208.9" r="3.9" fill="#ff0000"/><circle cx="938.1" cy="211.9" r="3.9" fill="#ff0000"/><circle cx="930.2" cy="220.4" r="3.9" fill="#ff0000"/><circle cx="916.2" cy="227.8" r="3.9" fill="#ff0000"/><circle cx="908.8" cy="233.8" r="3.9" fill="#ff0000"/><circle cx="904.8" cy="236.8" r="3.9" fill="#ff0000"/><circle cx="899.3" cy="248.8" r="3.9" fill="#ff0000"/><circle cx="893.8" cy="257.7" r="3.9" fill="#ff0000"/><circle cx="888.8" cy="250.7" r="3.9" fill="#ff0000"/><circle cx="887.3" cy="239.3" r="3.9" fill="#ff0000"/><circle cx="886.8" cy="246.3" r="3.9" fill="#ff0000"/><circle cx="874.4" cy="270.2" r="3.9" fill="#ff0000"/><circle cx="863.4" cy="277.1" r="3.9" fill="#ff0000"/><circle cx="829.0" cy="288.4" r="3.9" fill="#ff0000"/><circle cx="863.2" cy="277.6" r="3.9" fill="#ff0000"/><circle cx="886.2" cy="270.1" r="3.9" fill="#ff0000"/><circle cx="909.7" cy="243.3" r="3.9" fill="#ff0000"/><circle cx="926.7" cy="239.8" r="3.9" fill="#ff0000"/><circle cx="952.6" cy="235.3" r="3.9" fill="#ff0000"/><circle cx="919.7" cy="244.8" r="3.9" fill="#ff0000"/><circle cx="913.7" cy="251.7" r="3.9" fill="#ff0000"/><circle cx="912.7" cy="254.7" r="3.9" fill="#ff0000"/><circle cx="874.3" cy="269.6" r="3.9" fill="#ff0000"/><circle cx="865.7" cy="289.3" r="3.9" fill="#ff0000"/><circle cx="856.3" cy="315.4" r="3.9" fill="#ff0000"/><circle cx="871.4" cy="306.3" r="3.9" fill="#ff0000"/><circle cx="881.6" cy="299.5" r="3.9" fill="#ff0000"/><circle cx="894.8" cy="283.3" r="3.9" fill="#ff0000"/><circle cx="855.9" cy="315.0" r="3.9" fill="#ff0000"/><circle cx="865.4" cy="289.1" r="3.9" fill="#ff0000"/><circle cx="876.9" cy="277.6" r="3.9" fill="#ff0000"/><circle cx="886.3" cy="270.2" r="3.9" fill="#ff0000"/><circle cx="900.8" cy="255.7" r="3.9" fill="#ff0000"/><circle cx="947.6" cy="282.1" r="3.9" fill="#ff0000"/><circle cx="944.6" cy="214.9" r="3.9" fill="#ff0000"/><circle cx="935.3" cy="320.0" r="3.9" fill="#ff0000"/><circle cx="932.2" cy="292.1" r="3.9" fill="#ff0000"/><circle cx="928.4" cy="320.0" r="3.9" fill="#ff0000"/><circle cx="921.7" cy="230.8" r="3.9" fill="#ff0000"/>
</g>
<rect x="1006.7" y="90.6" width="113.9" height="60.3" fill="#fff" stroke="#000" stroke-width="1.94"/>
<path d="M1017.3 107.3H1037.3" stroke="#0000ff" stroke-width="1.94"/>
<circle cx="1017.3" cy="107.3" r="3.9" fill="#0000ff"/><circle cx="1037.3" cy="107.3" r="3.9" fill="#0000ff"/>
<path d="M1017.3 133.3H1037.3" stroke="#ff0000" stroke-width="1.94"/>
<circle cx="1017.3" cy="133.3" r="3.9" fill="#ff0000"/><circle cx="1037.3" cy="133.3" r="3.9" fill="#ff0000"/>
<text x="1054.30" y="111.10" font-size="15.27" text-anchor="start" textLength="15.34" lengthAdjust="spacingAndGlyphs" fill="#000">B/</text>
<path d="M1069.1 108.2l1.2 -0.8l2.4 6l7.4 -14.2H1108.6" fill="none" stroke="#000" stroke-width="1.0"/>
<text x="1083.14" y="111.10" font-size="15.00" font-family='"Liberation Serif", serif' font-style="italic" text-anchor="start" textLength="8.50" lengthAdjust="spacingAndGlyphs" fill="#222">μ</text>
<text x="1091.64" y="113.60" font-size="10.50" font-family='"Liberation Serif", serif' font-style="normal" text-anchor="start" textLength="4.20" lengthAdjust="spacingAndGlyphs" fill="#222">0</text>
<text x="1097.84" y="111.10" font-size="15.00" font-family='"Liberation Serif", serif' font-style="italic" text-anchor="start" textLength="7.50" lengthAdjust="spacingAndGlyphs" fill="#222">ρ</text>
<text x="1054.30" y="137.60" font-size="15.27" text-anchor="start" textLength="10.26" lengthAdjust="spacingAndGlyphs" fill="#000">V</text>
<text x="1065.06" y="140.10" font-size="10.80" font-family='"Liberation Serif", serif' font-style="italic" text-anchor="start" textLength="48.00" lengthAdjust="spacingAndGlyphs" fill="#000">remaining</text>
<text x="685.50" y="515.60" font-size="19.00" font-family='"Liberation Serif", serif' font-style="italic" text-anchor="start" textLength="10.50" lengthAdjust="spacingAndGlyphs" fill="#000">λ</text>
<text x="695.70" y="519.10" font-size="13.00" font-family='"Liberation Serif", serif' font-style="normal" text-anchor="start" textLength="5.50" lengthAdjust="spacingAndGlyphs" fill="#000">1</text>
<text x="704.50" y="518.10" font-size="21.00" font-family='"Liberation Serif", serif' font-style="normal" text-anchor="start" textLength="7.00" lengthAdjust="spacingAndGlyphs" fill="#000">/</text>
<text x="714.00" y="515.60" font-size="19.00" font-family='"Liberation Serif", serif' font-style="italic" text-anchor="start" textLength="10.50" lengthAdjust="spacingAndGlyphs" fill="#000">λ</text>
<text x="724.10" y="519.10" font-size="13.00" font-family='"Liberation Serif", serif' font-style="normal" text-anchor="start" textLength="5.50" lengthAdjust="spacingAndGlyphs" fill="#000">2</text>
<text x="733.50" y="515.60" font-size="22.00" font-family='"Liberation Serif", serif' font-style="normal" text-anchor="start" textLength="13.50" lengthAdjust="spacingAndGlyphs" fill="#000">≈</text>
<text x="757.00" y="515.60" font-size="18.33" text-anchor="start" textLength="40.08" lengthAdjust="spacingAndGlyphs" fill="#000">1.63</text>
<g clip-path="url(#c_p3)">
<path d="M1375.5 117.4L1409.5 115.4L1429.5 467.6L1428.6 475.0L1417.1 475.0L1400.9 529.6L1416.6 510.2L1424.4 516.7L1435.1 513.0L1441.0 520.4L1439.2 525.0L1458.6 510.2L1460.1 526.0L1485.0 516.1L1435.1 513.0M1405.5 107.2L1372.5 140.3L1482.3 209.4L1530.4 212.5L1543.9 207.5L1542.4 183.4L1495.2 184.0L1488.2 222.3L1479.1 262.5L1457.3 394.0L1458.2 345.9L1418.4 488.9M1482.3 450.6L1518.4 394.6L1539.3 381.0L1520.2 431.6L1544.3 416.4L1518.4 394.6M1512.8 400.7L1484.1 414.4M1405.5 107.2L1402.3 176.4L1450.4 198.3L1443.4 205.7L1437.3 399.2L1427.7 490.8L1446.2 494.5L1512.8 400.7L1507.6 478.4L1496.2 500.0L1465.2 484.9L1459.1 430.3L1457.3 394.0L1470.2 333.3L1487.5 324.5M1375.5 117.4L1417.1 475.0L1418.4 488.9L1384.2 499.5L1471.2 501.9L1476.7 475.0L1484.1 414.4L1512.8 400.7M1444.3 118.3L1421.6 132.2L1408.8 146.4L1428.6 475.0L1394.4 503.7L1375.9 512.1L1356.4 317.1L1388.5 411.2L1404.2 446.4L1422.1 436.2L1422.1 415.3L1424.4 449.1L1429.5 484.3L1485.0 516.1M1444.3 118.3L1443.4 205.7L1437.3 399.2L1429.5 467.6L1429.5 484.3L1466.5 504.7L1444.3 434.3L1439.7 442.3L1427.7 490.8L1400.9 529.6M1463.4 143.3L1490.0 165.5L1439.7 281.5L1458.2 289.5L1470.2 333.3L1453.2 324.6L1439.7 316.7L1439.2 499.1L1446.2 494.5L1466.5 504.7L1471.2 501.9M1463.4 143.3L1454.5 185.3L1448.0 261.2L1429.5 467.6M1393.4 159.4L1428.6 475.0L1439.2 499.1L1485.0 516.1M1518.4 394.6L1482.3 450.6L1488.4 444.1L1493.4 422.3L1466.5 504.7M1409.5 115.4L1458.6 510.2M1384.2 499.5L1496.2 500.0L1507.6 478.4" fill="none" stroke="#0000ff" stroke-width="1.94" stroke-linejoin="round"/>
<circle cx="1375.5" cy="117.4" r="3.9" fill="#0000ff"/><circle cx="1409.5" cy="115.4" r="3.9" fill="#0000ff"/><circle cx="1429.5" cy="467.6" r="3.9" fill="#0000ff"/><circle cx="1428.6" cy="475.0" r="3.9" fill="#0000ff"/><circle cx="1417.1" cy="475.0" r="3.9" fill="#0000ff"/><circle cx="1400.9" cy="529.6" r="3.9" fill="#0000ff"/><circle cx="1416.6" cy="510.2" r="3.9" fill="#0000ff"/><circle cx="1424.4" cy="516.7" r="3.9" fill="#0000ff"/><circle cx="1435.1" cy="513.0" r="3.9" fill="#0000ff"/><circle cx="1441.0" cy="520.4" r="3.9" fill="#0000ff"/><circle cx="1439.2" cy="525.0" r="3.9" fill="#0000ff"/><circle cx="1458.6" cy="510.2" r="3.9" fill="#0000ff"/><circle cx="1460.1" cy="526.0" r="3.9" fill="#0000ff"/><circle cx="1485.0" cy="516.1" r="3.9" fill="#0000ff"/><circle cx="1405.5" cy="107.2" r="3.9" fill="#0000ff"/><circle cx="1372.5" cy="140.3" r="3.9" fill="#0000ff"/><circle cx="1482.3" cy="209.4" r="3.9" fill="#0000ff"/><circle cx="1530.4" cy="212.5" r="3.9" fill="#0000ff"/><circle cx="1543.9" cy="207.5" r="3.9" fill="#0000ff"/><circle cx="1542.4" cy="183.4" r="3.9" fill="#0000ff"/><circle cx="1495.2" cy="184.0" r="3.9" fill="#0000ff"/><circle cx="1488.2" cy="222.3" r="3.9" fill="#0000ff"/><circle cx="1479.1" cy="262.5" r="3.9" fill="#0000ff"/><circle cx="1457.3" cy="394.0" r="3.9" fill="#0000ff"/><circle cx="1458.2" cy="345.9" r="3.9" fill="#0000ff"/><circle cx="1418.4" cy="488.9" r="3.9" fill="#0000ff"/><circle cx="1482.3" cy="450.6" r="3.9" fill="#0000ff"/><circle cx="1518.4" cy="394.6" r="3.9" fill="#0000ff"/><circle cx="1539.3" cy="381.0" r="3.9" fill="#0000ff"/><circle cx="1520.2" cy="431.6" r="3.9" fill="#0000ff"/><circle cx="1544.3" cy="416.4" r="3.9" fill="#0000ff"/><circle cx="1512.8" cy="400.7" r="3.9" fill="#0000ff"/><circle cx="1484.1" cy="414.4" r="3.9" fill="#0000ff"/><circle cx="1402.3" cy="176.4" r="3.9" fill="#0000ff"/><circle cx="1450.4" cy="198.3" r="3.9" fill="#0000ff"/><circle cx="1443.4" cy="205.7" r="3.9" fill="#0000ff"/><circle cx="1437.3" cy="399.2" r="3.9" fill="#0000ff"/><circle cx="1427.7" cy="490.8" r="3.9" fill="#0000ff"/><circle cx="1446.2" cy="494.5" r="3.9" fill="#0000ff"/><circle cx="1507.6" cy="478.4" r="3.9" fill="#0000ff"/><circle cx="1496.2" cy="500.0" r="3.9" fill="#0000ff"/><circle cx="1465.2" cy="484.9" r="3.9" fill="#0000ff"/><circle cx="1459.1" cy="430.3" r="3.9" fill="#0000ff"/><circle cx="1470.2" cy="333.3" r="3.9" fill="#0000ff"/><circle cx="1487.5" cy="324.5" r="3.9" fill="#0000ff"/><circle cx="1384.2" cy="499.5" r="3.9" fill="#0000ff"/><circle cx="1471.2" cy="501.9" r="3.9" fill="#0000ff"/><circle cx="1476.7" cy="475.0" r="3.9" fill="#0000ff"/><circle cx="1444.3" cy="118.3" r="3.9" fill="#0000ff"/><circle cx="1421.6" cy="132.2" r="3.9" fill="#0000ff"/><circle cx="1408.8" cy="146.4" r="3.9" fill="#0000ff"/><circle cx="1394.4" cy="503.7" r="3.9" fill="#0000ff"/><circle cx="1375.9" cy="512.1" r="3.9" fill="#0000ff"/><circle cx="1356.4" cy="317.1" r="3.9" fill="#0000ff"/><circle cx="1388.5" cy="411.2" r="3.9" fill="#0000ff"/><circle cx="1404.2" cy="446.4" r="3.9" fill="#0000ff"/><circle cx="1422.1" cy="436.2" r="3.9" fill="#0000ff"/><circle cx="1422.1" cy="415.3" r="3.9" fill="#0000ff"/><circle cx="1424.4" cy="449.1" r="3.9" fill="#0000ff"/><circle cx="1429.5" cy="484.3" r="3.9" fill="#0000ff"/><circle cx="1466.5" cy="504.7" r="3.9" fill="#0000ff"/><circle cx="1444.3" cy="434.3" r="3.9" fill="#0000ff"/><circle cx="1439.7" cy="442.3" r="3.9" fill="#0000ff"/><circle cx="1463.4" cy="143.3" r="3.9" fill="#0000ff"/><circle cx="1490.0" cy="165.5" r="3.9" fill="#0000ff"/><circle cx="1439.7" cy="281.5" r="3.9" fill="#0000ff"/><circle cx="1458.2" cy="289.5" r="3.9" fill="#0000ff"/><circle cx="1453.2" cy="324.6" r="3.9" fill="#0000ff"/><circle cx="1439.7" cy="316.7" r="3.9" fill="#0000ff"/><circle cx="1439.2" cy="499.1" r="3.9" fill="#0000ff"/><circle cx="1454.5" cy="185.3" r="3.9" fill="#0000ff"/><circle cx="1448.0" cy="261.2" r="3.9" fill="#0000ff"/><circle cx="1393.4" cy="159.4" r="3.9" fill="#0000ff"/><circle cx="1488.4" cy="444.1" r="3.9" fill="#0000ff"/><circle cx="1493.4" cy="422.3" r="3.9" fill="#0000ff"/>
<path d="M1391.2 212.1L1394.4 291.7L1392.2 290.0L1407.3 345.5L1371.2 352.5L1357.4 368.3L1342.6 384.4L1366.6 381.2L1388.8 377.0L1377.7 371.4L1366.6 364.9L1403.6 381.2L1436.9 374.2L1434.2 391.8L1455.1 403.3L1432.3 419.2L1409.5 434.3L1390.7 415.5L1373.6 396.4M1391.2 212.1L1407.3 232.5L1427.7 243.6L1458.2 214.9L1448.0 209.4L1424.4 212.1L1412.0 220.5L1396.2 228.8L1393.4 227.9L1388.8 237.1L1385.1 248.2L1387.0 268.6L1389.7 289.5L1451.7 338.9L1451.4 339.0L1465.2 374.2L1434.2 391.8L1413.3 392.1L1440.6 247.3L1481.3 231.6L1466.5 239.0L1458.2 245.4L1443.4 239.0L1442.5 299.1L1436.0 306.5L1427.7 312.1M1416.6 235.3L1405.5 249.1L1411.0 248.2L1409.2 258.4L1404.6 266.7L1409.2 272.3L1420.3 276.9L1427.7 282.4L1435.1 276.9L1438.8 269.5L1433.2 254.7L1440.6 247.3M1452.7 257.5L1498.0 279.1L1418.4 288.9L1406.4 289.5L1421.2 299.1L1417.5 315.8L1427.7 326.9L1423.1 336.1L1424.9 337.2L1422.1 335.3L1428.0 327.0L1417.1 315.9L1389.7 289.5M1407.3 345.5L1451.4 345.5L1451.4 339.0L1431.4 344.6L1412.0 348.3L1414.7 343.7L1407.3 345.4L1413.8 343.5L1421.2 299.1M1401.4 356.1L1409.7 372.0L1414.7 362.7L1423.1 372.3L1436.9 374.2L1440.6 376.0M1449.9 283.4L1452.7 257.5L1458.2 245.4L1427.7 243.6" fill="none" stroke="#ff0000" stroke-width="1.94" stroke-linejoin="round"/>
<circle cx="1391.2" cy="212.1" r="3.9" fill="#ff0000"/><circle cx="1394.4" cy="291.7" r="3.9" fill="#ff0000"/><circle cx="1392.2" cy="290.0" r="3.9" fill="#ff0000"/><circle cx="1407.3" cy="345.5" r="3.9" fill="#ff0000"/><circle cx="1371.2" cy="352.5" r="3.9" fill="#ff0000"/><circle cx="1357.4" cy="368.3" r="3.9" fill="#ff0000"/><circle cx="1342.6" cy="384.4" r="3.9" fill="#ff0000"/><circle cx="1366.6" cy="381.2" r="3.9" fill="#ff0000"/><circle cx="1388.8" cy="377.0" r="3.9" fill="#ff0000"/><circle cx="1377.7" cy="371.4" r="3.9" fill="#ff0000"/><circle cx="1366.6" cy="364.9" r="3.9" fill="#ff0000"/><circle cx="1403.6" cy="381.2" r="3.9" fill="#ff0000"/><circle cx="1436.9" cy="374.2" r="3.9" fill="#ff0000"/><circle cx="1434.2" cy="391.8" r="3.9" fill="#ff0000"/><circle cx="1455.1" cy="403.3" r="3.9" fill="#ff0000"/><circle cx="1432.3" cy="419.2" r="3.9" fill="#ff0000"/><circle cx="1409.5" cy="434.3" r="3.9" fill="#ff0000"/><circle cx="1390.7" cy="415.5" r="3.9" fill="#ff0000"/><circle cx="1373.6" cy="396.4" r="3.9" fill="#ff0000"/><circle cx="1407.3" cy="232.5" r="3.9" fill="#ff0000"/><circle cx="1427.7" cy="243.6" r="3.9" fill="#ff0000"/><circle cx="1458.2" cy="214.9" r="3.9" fill="#ff0000"/><circle cx="1448.0" cy="209.4" r="3.9" fill="#ff0000"/><circle cx="1424.4" cy="212.1" r="3.9" fill="#ff0000"/><circle cx="1412.0" cy="220.5" r="3.9" fill="#ff0000"/><circle cx="1396.2" cy="228.8" r="3.9" fill="#ff0000"/><circle cx="1393.4" cy="227.9" r="3.9" fill="#ff0000"/><circle cx="1388.8" cy="237.1" r="3.9" fill="#ff0000"/><circle cx="1385.1" cy="248.2" r="3.9" fill="#ff0000"/><circle cx="1387.0" cy="268.6" r="3.9" fill="#ff0000"/><circle cx="1389.7" cy="289.5" r="3.9" fill="#ff0000"/><circle cx="1451.7" cy="338.9" r="3.9" fill="#ff0000"/><circle cx="1451.4" cy="339.0" r="3.9" fill="#ff0000"/><circle cx="1465.2" cy="374.2" r="3.9" fill="#ff0000"/><circle cx="1413.3" cy="392.1" r="3.9" fill="#ff0000"/><circle cx="1440.6" cy="247.3" r="3.9" fill="#ff0000"/><circle cx="1481.3" cy="231.6" r="3.9" fill="#ff0000"/><circle cx="1466.5" cy="239.0" r="3.9" fill="#ff0000"/><circle cx="1458.2" cy="245.4" r="3.9" fill="#ff0000"/><circle cx="1443.4" cy="239.0" r="3.9" fill="#ff0000"/><circle cx="1442.5" cy="299.1" r="3.9" fill="#ff0000"/><circle cx="1436.0" cy="306.5" r="3.9" fill="#ff0000"/><circle cx="1427.7" cy="312.1" r="3.9" fill="#ff0000"/><circle cx="1416.6" cy="235.3" r="3.9" fill="#ff0000"/><circle cx="1405.5" cy="249.1" r="3.9" fill="#ff0000"/><circle cx="1411.0" cy="248.2" r="3.9" fill="#ff0000"/><circle cx="1409.2" cy="258.4" r="3.9" fill="#ff0000"/><circle cx="1404.6" cy="266.7" r="3.9" fill="#ff0000"/><circle cx="1409.2" cy="272.3" r="3.9" fill="#ff0000"/><circle cx="1420.3" cy="276.9" r="3.9" fill="#ff0000"/><circle cx="1427.7" cy="282.4" r="3.9" fill="#ff0000"/><circle cx="1435.1" cy="276.9" r="3.9" fill="#ff0000"/><circle cx="1438.8" cy="269.5" r="3.9" fill="#ff0000"/><circle cx="1433.2" cy="254.7" r="3.9" fill="#ff0000"/><circle cx="1452.7" cy="257.5" r="3.9" fill="#ff0000"/><circle cx="1498.0" cy="279.1" r="3.9" fill="#ff0000"/><circle cx="1418.4" cy="288.9" r="3.9" fill="#ff0000"/><circle cx="1406.4" cy="289.5" r="3.9" fill="#ff0000"/><circle cx="1421.2" cy="299.1" r="3.9" fill="#ff0000"/><circle cx="1417.5" cy="315.8" r="3.9" fill="#ff0000"/><circle cx="1427.7" cy="326.9" r="3.9" fill="#ff0000"/><circle cx="1423.1" cy="336.1" r="3.9" fill="#ff0000"/><circle cx="1424.9" cy="337.2" r="3.9" fill="#ff0000"/><circle cx="1422.1" cy="335.3" r="3.9" fill="#ff0000"/><circle cx="1428.0" cy="327.0" r="3.9" fill="#ff0000"/><circle cx="1417.1" cy="315.9" r="3.9" fill="#ff0000"/><circle cx="1451.4" cy="345.5" r="3.9" fill="#ff0000"/><circle cx="1431.4" cy="344.6" r="3.9" fill="#ff0000"/><circle cx="1412.0" cy="348.3" r="3.9" fill="#ff0000"/><circle cx="1414.7" cy="343.7" r="3.9" fill="#ff0000"/><circle cx="1407.3" cy="345.4" r="3.9" fill="#ff0000"/><circle cx="1413.8" cy="343.5" r="3.9" fill="#ff0000"/><circle cx="1401.4" cy="356.1" r="3.9" fill="#ff0000"/><circle cx="1409.7" cy="372.0" r="3.9" fill="#ff0000"/><circle cx="1414.7" cy="362.7" r="3.9" fill="#ff0000"/><circle cx="1423.1" cy="372.3" r="3.9" fill="#ff0000"/><circle cx="1440.6" cy="376.0" r="3.9" fill="#ff0000"/><circle cx="1449.9" cy="283.4" r="3.9" fill="#ff0000"/>
</g>
<rect x="1562.7" y="90.6" width="113.9" height="60.3" fill="#fff" stroke="#000" stroke-width="1.94"/>
<path d="M1573.3 107.3H1593.3" stroke="#0000ff" stroke-width="1.94"/>
<circle cx="1573.3" cy="107.3" r="3.9" fill="#0000ff"/><circle cx="1593.3" cy="107.3" r="3.9" fill="#0000ff"/>
<path d="M1573.3 133.3H1593.3" stroke="#ff0000" stroke-width="1.94"/>
<circle cx="1573.3" cy="133.3" r="3.9" fill="#ff0000"/><circle cx="1593.3" cy="133.3" r="3.9" fill="#ff0000"/>
<text x="1610.30" y="111.10" font-size="15.27" text-anchor="start" textLength="15.34" lengthAdjust="spacingAndGlyphs" fill="#000">B/</text>
<path d="M1625.1 108.2l1.2 -0.8l2.4 6l7.4 -14.2H1664.6" fill="none" stroke="#000" stroke-width="1.0"/>
<text x="1639.14" y="111.10" font-size="15.00" font-family='"Liberation Serif", serif' font-style="italic" text-anchor="start" textLength="8.50" lengthAdjust="spacingAndGlyphs" fill="#222">μ</text>
<text x="1647.64" y="113.60" font-size="10.50" font-family='"Liberation Serif", serif' font-style="normal" text-anchor="start" textLength="4.20" lengthAdjust="spacingAndGlyphs" fill="#222">0</text>
<text x="1653.84" y="111.10" font-size="15.00" font-family='"Liberation Serif", serif' font-style="italic" text-anchor="start" textLength="7.50" lengthAdjust="spacingAndGlyphs" fill="#222">ρ</text>
<text x="1610.30" y="137.60" font-size="15.27" text-anchor="start" textLength="10.26" lengthAdjust="spacingAndGlyphs" fill="#000">V</text>
<text x="1621.06" y="140.10" font-size="10.80" font-family='"Liberation Serif", serif' font-style="italic" text-anchor="start" textLength="48.00" lengthAdjust="spacingAndGlyphs" fill="#000">remaining</text>
<text x="1262.00" y="515.60" font-size="19.00" font-family='"Liberation Serif", serif' font-style="italic" text-anchor="start" textLength="10.50" lengthAdjust="spacingAndGlyphs" fill="#000">λ</text>
<text x="1272.20" y="519.10" font-size="13.00" font-family='"Liberation Serif", serif' font-style="normal" text-anchor="start" textLength="5.50" lengthAdjust="spacingAndGlyphs" fill="#000">1</text>
<text x="1281.00" y="518.10" font-size="21.00" font-family='"Liberation Serif", serif' font-style="normal" text-anchor="start" textLength="7.00" lengthAdjust="spacingAndGlyphs" fill="#000">/</text>
<text x="1290.50" y="515.60" font-size="19.00" font-family='"Liberation Serif", serif' font-style="italic" text-anchor="start" textLength="10.50" lengthAdjust="spacingAndGlyphs" fill="#000">λ</text>
<text x="1300.60" y="519.10" font-size="13.00" font-family='"Liberation Serif", serif' font-style="normal" text-anchor="start" textLength="5.50" lengthAdjust="spacingAndGlyphs" fill="#000">3</text>
<text x="1310.00" y="515.60" font-size="22.00" font-family='"Liberation Serif", serif' font-style="normal" text-anchor="start" textLength="13.50" lengthAdjust="spacingAndGlyphs" fill="#000">≈</text>
<text x="1333.50" y="515.60" font-size="18.33" text-anchor="start" textLength="40.08" lengthAdjust="spacingAndGlyphs" fill="#000">10.9</text>
<g clip-path="url(#c_p4)">
<circle cx="228.2" cy="791.3" r="5.6" fill="#ff0000"/><circle cx="277.2" cy="803.2" r="5.6" fill="#ff0000"/><circle cx="277.2" cy="815.2" r="5.6" fill="#ff0000"/><circle cx="259.2" cy="812.3" r="5.6" fill="#ff0000"/><circle cx="128.2" cy="811.0" r="5.6" fill="#ff0000"/><circle cx="138.8" cy="821.0" r="5.6" fill="#ff0000"/><circle cx="173.5" cy="832.3" r="5.6" fill="#ff0000"/><circle cx="261.7" cy="835.3" r="5.6" fill="#ff0000"/><circle cx="283.4" cy="835.3" r="5.6" fill="#ff0000"/><circle cx="222.4" cy="845.3" r="5.6" fill="#ff0000"/><circle cx="136.3" cy="855.3" r="5.6" fill="#ff0000"/><circle cx="334.4" cy="853.3" r="5.6" fill="#ff0000"/><circle cx="343.6" cy="873.4" r="5.6" fill="#ff0000"/><circle cx="232.4" cy="876.2" r="5.6" fill="#ff0000"/><circle cx="249.1" cy="882.9" r="5.6" fill="#ff0000"/><circle cx="221.6" cy="890.1" r="5.6" fill="#ff0000"/><circle cx="258.3" cy="892.1" r="5.6" fill="#ff0000"/><circle cx="277.2" cy="897.5" r="5.6" fill="#ff0000"/><circle cx="291.8" cy="883.8" r="5.6" fill="#ff0000"/><circle cx="302.7" cy="892.1" r="5.6" fill="#ff0000"/><circle cx="321.9" cy="887.1" r="5.6" fill="#ff0000"/><circle cx="319.4" cy="901.3" r="5.6" fill="#ff0000"/><circle cx="255.0" cy="904.7" r="5.6" fill="#ff0000"/><circle cx="244.1" cy="910.5" r="5.6" fill="#ff0000"/><circle cx="296.8" cy="908.9" r="5.6" fill="#ff0000"/><circle cx="307.7" cy="910.5" r="5.6" fill="#ff0000"/><circle cx="321.9" cy="912.2" r="5.6" fill="#ff0000"/><circle cx="331.9" cy="907.2" r="5.6" fill="#ff0000"/><circle cx="331.1" cy="918.1" r="5.6" fill="#ff0000"/><circle cx="344.5" cy="907.2" r="5.6" fill="#ff0000"/><circle cx="345.3" cy="913.9" r="5.6" fill="#ff0000"/><circle cx="346.2" cy="918.1" r="5.6" fill="#ff0000"/><circle cx="265.9" cy="921.4" r="5.6" fill="#ff0000"/><circle cx="285.9" cy="921.4" r="5.6" fill="#ff0000"/><circle cx="277.6" cy="928.9" r="5.6" fill="#ff0000"/><circle cx="218.2" cy="918.1" r="5.6" fill="#ff0000"/><circle cx="253.3" cy="938.5" r="5.6" fill="#ff0000"/><circle cx="334.4" cy="948.5" r="5.6" fill="#ff0000"/><circle cx="347.0" cy="942.3" r="5.6" fill="#ff0000"/><circle cx="344.2" cy="872.9" r="5.6" fill="#ff0000"/><circle cx="355.9" cy="877.1" r="5.6" fill="#ff0000"/><circle cx="361.7" cy="890.5" r="5.6" fill="#ff0000"/><circle cx="343.3" cy="902.2" r="5.6" fill="#ff0000"/><circle cx="345.0" cy="910.5" r="5.6" fill="#ff0000"/><circle cx="349.2" cy="916.4" r="5.6" fill="#ff0000"/><circle cx="356.7" cy="920.6" r="5.6" fill="#ff0000"/><circle cx="361.7" cy="927.3" r="5.6" fill="#ff0000"/><circle cx="370.1" cy="933.9" r="5.6" fill="#ff0000"/><circle cx="378.5" cy="939.0" r="5.6" fill="#ff0000"/><circle cx="371.8" cy="941.5" r="5.6" fill="#ff0000"/><circle cx="350.4" cy="942.3" r="5.6" fill="#ff0000"/><circle cx="388.5" cy="932.3" r="5.6" fill="#ff0000"/><circle cx="393.2" cy="923.9" r="5.6" fill="#ff0000"/><circle cx="383.5" cy="915.5" r="5.6" fill="#ff0000"/><circle cx="406.1" cy="913.0" r="5.6" fill="#ff0000"/><circle cx="415.3" cy="921.4" r="5.6" fill="#ff0000"/><circle cx="422.0" cy="915.5" r="5.6" fill="#ff0000"/><circle cx="415.3" cy="936.5" r="5.6" fill="#ff0000"/><circle cx="425.3" cy="943.1" r="5.6" fill="#ff0000"/><circle cx="407.4" cy="952.3" r="5.6" fill="#ff0000"/><circle cx="424.5" cy="960.7" r="5.6" fill="#ff0000"/><circle cx="437.0" cy="966.6" r="5.6" fill="#ff0000"/><circle cx="388.5" cy="897.1" r="5.6" fill="#ff0000"/><circle cx="376.1" cy="984.0" r="5.6" fill="#ff0000"/><circle cx="395.3" cy="977.0" r="5.6" fill="#ff0000"/><circle cx="402.2" cy="976.3" r="5.6" fill="#ff0000"/><circle cx="425.8" cy="995.5" r="5.6" fill="#ff0000"/>
<circle cx="131.2" cy="788.1" r="5.6" fill="#008000"/><circle cx="129.2" cy="799.3" r="5.6" fill="#008000"/><circle cx="135.4" cy="816.0" r="5.6" fill="#008000"/><circle cx="193.5" cy="830.2" r="5.6" fill="#008000"/><circle cx="206.2" cy="816.4" r="5.6" fill="#008000"/><circle cx="213.2" cy="818.5" r="5.6" fill="#008000"/><circle cx="222.4" cy="811.3" r="5.6" fill="#008000"/><circle cx="145.5" cy="856.2" r="5.6" fill="#008000"/><circle cx="169.2" cy="867.0" r="5.6" fill="#008000"/><circle cx="139.6" cy="886.3" r="5.6" fill="#008000"/><circle cx="148.0" cy="885.4" r="5.6" fill="#008000"/><circle cx="166.4" cy="891.3" r="5.6" fill="#008000"/><circle cx="200.6" cy="918.1" r="5.6" fill="#008000"/><circle cx="215.4" cy="924.7" r="5.6" fill="#008000"/><circle cx="224.4" cy="902.5" r="5.6" fill="#008000"/><circle cx="245.8" cy="861.2" r="5.6" fill="#008000"/><circle cx="240.8" cy="869.6" r="5.6" fill="#008000"/><circle cx="257.5" cy="859.5" r="5.6" fill="#008000"/><circle cx="259.2" cy="867.0" r="5.6" fill="#008000"/><circle cx="267.5" cy="864.5" r="5.6" fill="#008000"/><circle cx="267.5" cy="873.7" r="5.6" fill="#008000"/><circle cx="279.3" cy="864.5" r="5.6" fill="#008000"/><circle cx="279.3" cy="874.6" r="5.6" fill="#008000"/><circle cx="287.6" cy="861.2" r="5.6" fill="#008000"/><circle cx="297.6" cy="843.1" r="5.6" fill="#008000"/><circle cx="298.5" cy="867.0" r="5.6" fill="#008000"/><circle cx="299.3" cy="877.1" r="5.6" fill="#008000"/><circle cx="320.2" cy="868.4" r="5.6" fill="#008000"/><circle cx="319.4" cy="882.9" r="5.6" fill="#008000"/><circle cx="326.9" cy="879.6" r="5.6" fill="#008000"/><circle cx="286.8" cy="888.8" r="5.6" fill="#008000"/><circle cx="268.4" cy="891.3" r="5.6" fill="#008000"/><circle cx="303.5" cy="890.5" r="5.6" fill="#008000"/><circle cx="296.0" cy="917.2" r="5.6" fill="#008000"/><circle cx="274.2" cy="922.2" r="5.6" fill="#008000"/><circle cx="288.5" cy="933.1" r="5.6" fill="#008000"/><circle cx="311.0" cy="928.1" r="5.6" fill="#008000"/><circle cx="309.4" cy="937.3" r="5.6" fill="#008000"/><circle cx="321.1" cy="959.9" r="5.6" fill="#008000"/><circle cx="339.5" cy="887.9" r="5.6" fill="#008000"/><circle cx="345.3" cy="888.8" r="5.6" fill="#008000"/><circle cx="272.6" cy="868.7" r="5.6" fill="#008000"/><circle cx="254.2" cy="858.7" r="5.6" fill="#008000"/><circle cx="342.5" cy="888.8" r="5.6" fill="#008000"/><circle cx="350.0" cy="892.1" r="5.6" fill="#008000"/><circle cx="360.1" cy="883.8" r="5.6" fill="#008000"/><circle cx="362.6" cy="898.0" r="5.6" fill="#008000"/><circle cx="356.7" cy="908.0" r="5.6" fill="#008000"/><circle cx="366.8" cy="914.7" r="5.6" fill="#008000"/><circle cx="374.3" cy="922.2" r="5.6" fill="#008000"/><circle cx="353.4" cy="933.1" r="5.6" fill="#008000"/><circle cx="363.4" cy="945.6" r="5.6" fill="#008000"/><circle cx="384.3" cy="937.3" r="5.6" fill="#008000"/><circle cx="373.5" cy="895.5" r="5.6" fill="#008000"/><circle cx="382.6" cy="898.0" r="5.6" fill="#008000"/><circle cx="395.2" cy="913.0" r="5.6" fill="#008000"/><circle cx="406.9" cy="929.3" r="5.6" fill="#008000"/><circle cx="416.9" cy="900.5" r="5.6" fill="#008000"/><circle cx="430.3" cy="898.8" r="5.6" fill="#008000"/><circle cx="438.7" cy="897.1" r="5.6" fill="#008000"/><circle cx="457.1" cy="897.1" r="5.6" fill="#008000"/><circle cx="473.8" cy="904.7" r="5.6" fill="#008000"/><circle cx="485.5" cy="930.3" r="5.6" fill="#008000"/><circle cx="481.3" cy="949.0" r="5.6" fill="#008000"/><circle cx="450.4" cy="960.7" r="5.6" fill="#008000"/><circle cx="455.4" cy="958.2" r="5.6" fill="#008000"/><circle cx="462.9" cy="967.4" r="5.6" fill="#008000"/><circle cx="483.8" cy="964.9" r="5.6" fill="#008000"/><circle cx="536.5" cy="942.3" r="5.6" fill="#008000"/><circle cx="539.0" cy="953.2" r="5.6" fill="#008000"/><circle cx="557.4" cy="943.1" r="5.6" fill="#008000"/><circle cx="558.3" cy="959.0" r="5.6" fill="#008000"/><circle cx="569.1" cy="944.0" r="5.6" fill="#008000"/><circle cx="560.8" cy="969.1" r="5.6" fill="#008000"/><circle cx="458.2" cy="973.1" r="5.6" fill="#008000"/>
<circle cx="147.5" cy="782.2" r="5.6" fill="#0000ff"/><circle cx="187.3" cy="798.5" r="5.6" fill="#0000ff"/><circle cx="175.2" cy="814.4" r="5.6" fill="#0000ff"/><circle cx="249.1" cy="813.2" r="5.6" fill="#0000ff"/><circle cx="138.3" cy="824.1" r="5.6" fill="#0000ff"/><circle cx="118.7" cy="830.2" r="5.6" fill="#0000ff"/><circle cx="213.2" cy="837.8" r="5.6" fill="#0000ff"/><circle cx="217.4" cy="844.5" r="5.6" fill="#0000ff"/><circle cx="206.5" cy="848.6" r="5.6" fill="#0000ff"/><circle cx="213.2" cy="857.0" r="5.6" fill="#0000ff"/><circle cx="230.4" cy="856.2" r="5.6" fill="#0000ff"/><circle cx="241.1" cy="837.8" r="5.6" fill="#0000ff"/><circle cx="237.4" cy="847.0" r="5.6" fill="#0000ff"/><circle cx="246.1" cy="855.3" r="5.6" fill="#0000ff"/><circle cx="254.2" cy="850.3" r="5.6" fill="#0000ff"/><circle cx="272.2" cy="852.8" r="5.6" fill="#0000ff"/><circle cx="298.2" cy="858.3" r="5.6" fill="#0000ff"/><circle cx="312.4" cy="846.1" r="5.6" fill="#0000ff"/><circle cx="323.2" cy="824.4" r="5.6" fill="#0000ff"/><circle cx="333.3" cy="843.1" r="5.6" fill="#0000ff"/><circle cx="320.2" cy="857.0" r="5.6" fill="#0000ff"/><circle cx="252.2" cy="877.1" r="5.6" fill="#0000ff"/><circle cx="311.9" cy="886.3" r="5.6" fill="#0000ff"/><circle cx="333.3" cy="881.3" r="5.6" fill="#0000ff"/><circle cx="185.3" cy="884.3" r="5.6" fill="#0000ff"/><circle cx="269.2" cy="933.9" r="5.6" fill="#0000ff"/><circle cx="269.2" cy="938.1" r="5.6" fill="#0000ff"/><circle cx="347.0" cy="887.1" r="5.6" fill="#0000ff"/><circle cx="419.4" cy="833.3" r="5.6" fill="#0000ff"/><circle cx="362.2" cy="861.2" r="5.6" fill="#0000ff"/><circle cx="355.4" cy="869.6" r="5.6" fill="#0000ff"/><circle cx="370.1" cy="868.4" r="5.6" fill="#0000ff"/><circle cx="365.9" cy="880.4" r="5.6" fill="#0000ff"/><circle cx="350.9" cy="887.6" r="5.6" fill="#0000ff"/><circle cx="381.3" cy="890.5" r="5.6" fill="#0000ff"/><circle cx="391.0" cy="893.3" r="5.6" fill="#0000ff"/><circle cx="425.3" cy="872.4" r="5.6" fill="#0000ff"/><circle cx="429.5" cy="892.5" r="5.6" fill="#0000ff"/><circle cx="439.5" cy="888.4" r="5.6" fill="#0000ff"/><circle cx="439.5" cy="910.5" r="5.6" fill="#0000ff"/><circle cx="476.3" cy="868.4" r="5.6" fill="#0000ff"/><circle cx="486.3" cy="880.1" r="5.6" fill="#0000ff"/><circle cx="502.2" cy="886.3" r="5.6" fill="#0000ff"/><circle cx="480.2" cy="892.6" r="5.6" fill="#0000ff"/><circle cx="472.1" cy="898.5" r="5.6" fill="#0000ff"/><circle cx="465.8" cy="904.2" r="5.6" fill="#0000ff"/><circle cx="478.0" cy="913.5" r="5.6" fill="#0000ff"/><circle cx="483.8" cy="916.9" r="5.6" fill="#0000ff"/><circle cx="493.9" cy="918.1" r="5.6" fill="#0000ff"/><circle cx="498.1" cy="925.6" r="5.6" fill="#0000ff"/><circle cx="518.1" cy="924.7" r="5.6" fill="#0000ff"/><circle cx="522.3" cy="925.6" r="5.6" fill="#0000ff"/><circle cx="512.3" cy="936.5" r="5.6" fill="#0000ff"/><circle cx="478.0" cy="944.0" r="5.6" fill="#0000ff"/><circle cx="524.0" cy="944.8" r="5.6" fill="#0000ff"/><circle cx="532.3" cy="947.3" r="5.6" fill="#0000ff"/><circle cx="534.8" cy="944.0" r="5.6" fill="#0000ff"/><circle cx="524.8" cy="957.4" r="5.6" fill="#0000ff"/><circle cx="547.4" cy="948.2" r="5.6" fill="#0000ff"/><circle cx="546.6" cy="956.5" r="5.6" fill="#0000ff"/><circle cx="543.2" cy="962.4" r="5.6" fill="#0000ff"/><circle cx="496.4" cy="954.0" r="5.6" fill="#0000ff"/><circle cx="491.4" cy="961.5" r="5.6" fill="#0000ff"/><circle cx="503.1" cy="965.7" r="5.6" fill="#0000ff"/><circle cx="516.5" cy="967.4" r="5.6" fill="#0000ff"/><circle cx="548.2" cy="916.4" r="5.6" fill="#0000ff"/><circle cx="554.9" cy="968.2" r="5.6" fill="#0000ff"/><circle cx="382.6" cy="969.1" r="5.6" fill="#0000ff"/><circle cx="382.3" cy="971.9" r="5.6" fill="#0000ff"/><circle cx="387.2" cy="988.1" r="5.6" fill="#0000ff"/><circle cx="419.6" cy="982.1" r="5.6" fill="#0000ff"/><circle cx="411.2" cy="990.9" r="5.6" fill="#0000ff"/><circle cx="423.5" cy="997.1" r="5.6" fill="#0000ff"/><circle cx="289.3" cy="1012.4" r="5.6" fill="#0000ff"/><circle cx="481.3" cy="990.2" r="5.6" fill="#0000ff"/><circle cx="492.9" cy="992.0" r="5.6" fill="#0000ff"/><circle cx="497.5" cy="998.3" r="5.6" fill="#0000ff"/><circle cx="512.5" cy="994.4" r="5.6" fill="#0000ff"/><circle cx="519.5" cy="985.1" r="5.6" fill="#0000ff"/><circle cx="529.4" cy="984.0" r="5.6" fill="#0000ff"/><circle cx="544.2" cy="979.3" r="5.6" fill="#0000ff"/><circle cx="558.4" cy="973.5" r="5.6" fill="#0000ff"/>
<path d="M117 831.1L571 967.8" stroke="#000" stroke-width="1.94" stroke-dasharray="12 13" fill="none"/>
</g>
<rect x="125.7" y="669.1" width="144.6" height="48.6" fill="#fff" stroke="#000" stroke-width="1.94"/>
<text x="128.80" y="687.80" font-size="18.33" text-anchor="start" textLength="132.44" lengthAdjust="spacingAndGlyphs" fill="#000">slope = -0.307</text>
<text x="129.50" y="709.70" font-size="19.00" font-family='"Liberation Serif", serif' font-style="italic" text-anchor="start" textLength="8.00" lengthAdjust="spacingAndGlyphs" fill="#000">r</text>
<text x="141.00" y="709.70" font-size="18.33" text-anchor="start" textLength="84.55" lengthAdjust="spacingAndGlyphs" fill="#000"> = -0.708</text>
<g clip-path="url(#c_p5)">
<path d="M859.3 763.2L886.4 725.6L913.5 687.4L855.4 736.5L796.3 785.4L852.2 777.1L909.2 773.2L989.9 763.2L953.2 743.3L957.3 750.2L960.0 758.3L975.6 760.4L982.9 760.4L989.9 763.2L1013.4 776.4L1035.2 779.2L1057.6 781.1L1057.6 823.4L1043.3 868.3L909.9 986.3L897.1 1000.2L885.3 1001.3L869.3 1020.5L848.6 956.4L844.7 870.4L852.2 777.1M847.3 781.1L843.2 812.3L830.4 817.0L815.3 823.0L804.2 828.3L783.9 832.4L804.2 871.5L814.4 883.2L807.4 870.4L810.1 863.3L834.1 857.6L846.4 850.1L817.4 838.4L799.3 828.3M804.2 828.3L840.5 838.4L846.4 850.1L855.4 865.0L880.4 916.5L895.6 951.5L909.9 981.0L928.4 970.3L934.4 967.1L940.8 969.2L946.2 970.3L952.6 977.4L953.2 987.4M839.4 818.7L855.4 865.0L870.4 927.6L885.3 1001.3L881.0 1022.6L892.8 1013.0L909.9 981.0L922.3 991.0L930.6 999.6L926.5 1008.1L881.0 1022.6L884.7 1031.2L884.2 1055.3L890.2 1060.4L899.2 1049.3L899.2 1043.3L907.7 1030.5L916.3 1008.1L923.7 1002.3L930.6 999.6L938.3 990.2L934.4 967.1M847.3 781.1L870.4 927.6M889.6 963.5L901.3 975.6L909.9 981.0M889.6 963.5L884.7 1031.2M881.0 1022.6L899.2 1043.3M954.1 845.2L917.3 932.3L929.1 902.4L940.2 886.4L957.3 868.2L955.1 937.2L952.6 977.4M954.1 845.2L961.5 860.4L957.3 868.3L961.5 860.3L962.2 899.4L952.6 923.8L938.3 944.7L966.5 921.2L1009.2 883.8L1011.3 892.4L998.5 915.4L984.2 922.9L928.4 970.3" fill="none" stroke="#0000ff" stroke-width="1.94" stroke-linejoin="round"/>
<circle cx="859.3" cy="763.2" r="3.9" fill="#0000ff"/><circle cx="886.4" cy="725.6" r="3.9" fill="#0000ff"/><circle cx="913.5" cy="687.4" r="3.9" fill="#0000ff"/><circle cx="855.4" cy="736.5" r="3.9" fill="#0000ff"/><circle cx="796.3" cy="785.4" r="3.9" fill="#0000ff"/><circle cx="852.2" cy="777.1" r="3.9" fill="#0000ff"/><circle cx="909.2" cy="773.2" r="3.9" fill="#0000ff"/><circle cx="989.9" cy="763.2" r="3.9" fill="#0000ff"/><circle cx="953.2" cy="743.3" r="3.9" fill="#0000ff"/><circle cx="957.3" cy="750.2" r="3.9" fill="#0000ff"/><circle cx="960.0" cy="758.3" r="3.9" fill="#0000ff"/><circle cx="975.6" cy="760.4" r="3.9" fill="#0000ff"/><circle cx="982.9" cy="760.4" r="3.9" fill="#0000ff"/><circle cx="1013.4" cy="776.4" r="3.9" fill="#0000ff"/><circle cx="1035.2" cy="779.2" r="3.9" fill="#0000ff"/><circle cx="1057.6" cy="781.1" r="3.9" fill="#0000ff"/><circle cx="1057.6" cy="823.4" r="3.9" fill="#0000ff"/><circle cx="1043.3" cy="868.3" r="3.9" fill="#0000ff"/><circle cx="909.9" cy="986.3" r="3.9" fill="#0000ff"/><circle cx="897.1" cy="1000.2" r="3.9" fill="#0000ff"/><circle cx="885.3" cy="1001.3" r="3.9" fill="#0000ff"/><circle cx="869.3" cy="1020.5" r="3.9" fill="#0000ff"/><circle cx="848.6" cy="956.4" r="3.9" fill="#0000ff"/><circle cx="844.7" cy="870.4" r="3.9" fill="#0000ff"/><circle cx="847.3" cy="781.1" r="3.9" fill="#0000ff"/><circle cx="843.2" cy="812.3" r="3.9" fill="#0000ff"/><circle cx="830.4" cy="817.0" r="3.9" fill="#0000ff"/><circle cx="815.3" cy="823.0" r="3.9" fill="#0000ff"/><circle cx="804.2" cy="828.3" r="3.9" fill="#0000ff"/><circle cx="783.9" cy="832.4" r="3.9" fill="#0000ff"/><circle cx="804.2" cy="871.5" r="3.9" fill="#0000ff"/><circle cx="814.4" cy="883.2" r="3.9" fill="#0000ff"/><circle cx="807.4" cy="870.4" r="3.9" fill="#0000ff"/><circle cx="810.1" cy="863.3" r="3.9" fill="#0000ff"/><circle cx="834.1" cy="857.6" r="3.9" fill="#0000ff"/><circle cx="846.4" cy="850.1" r="3.9" fill="#0000ff"/><circle cx="817.4" cy="838.4" r="3.9" fill="#0000ff"/><circle cx="799.3" cy="828.3" r="3.9" fill="#0000ff"/><circle cx="840.5" cy="838.4" r="3.9" fill="#0000ff"/><circle cx="855.4" cy="865.0" r="3.9" fill="#0000ff"/><circle cx="880.4" cy="916.5" r="3.9" fill="#0000ff"/><circle cx="895.6" cy="951.5" r="3.9" fill="#0000ff"/><circle cx="909.9" cy="981.0" r="3.9" fill="#0000ff"/><circle cx="928.4" cy="970.3" r="3.9" fill="#0000ff"/><circle cx="934.4" cy="967.1" r="3.9" fill="#0000ff"/><circle cx="940.8" cy="969.2" r="3.9" fill="#0000ff"/><circle cx="946.2" cy="970.3" r="3.9" fill="#0000ff"/><circle cx="952.6" cy="977.4" r="3.9" fill="#0000ff"/><circle cx="953.2" cy="987.4" r="3.9" fill="#0000ff"/><circle cx="839.4" cy="818.7" r="3.9" fill="#0000ff"/><circle cx="870.4" cy="927.6" r="3.9" fill="#0000ff"/><circle cx="881.0" cy="1022.6" r="3.9" fill="#0000ff"/><circle cx="892.8" cy="1013.0" r="3.9" fill="#0000ff"/><circle cx="922.3" cy="991.0" r="3.9" fill="#0000ff"/><circle cx="930.6" cy="999.6" r="3.9" fill="#0000ff"/><circle cx="926.5" cy="1008.1" r="3.9" fill="#0000ff"/><circle cx="884.7" cy="1031.2" r="3.9" fill="#0000ff"/><circle cx="884.2" cy="1055.3" r="3.9" fill="#0000ff"/><circle cx="890.2" cy="1060.4" r="3.9" fill="#0000ff"/><circle cx="899.2" cy="1049.3" r="3.9" fill="#0000ff"/><circle cx="899.2" cy="1043.3" r="3.9" fill="#0000ff"/><circle cx="907.7" cy="1030.5" r="3.9" fill="#0000ff"/><circle cx="916.3" cy="1008.1" r="3.9" fill="#0000ff"/><circle cx="923.7" cy="1002.3" r="3.9" fill="#0000ff"/><circle cx="938.3" cy="990.2" r="3.9" fill="#0000ff"/><circle cx="889.6" cy="963.5" r="3.9" fill="#0000ff"/><circle cx="901.3" cy="975.6" r="3.9" fill="#0000ff"/><circle cx="954.1" cy="845.2" r="3.9" fill="#0000ff"/><circle cx="917.3" cy="932.3" r="3.9" fill="#0000ff"/><circle cx="929.1" cy="902.4" r="3.9" fill="#0000ff"/><circle cx="940.2" cy="886.4" r="3.9" fill="#0000ff"/><circle cx="957.3" cy="868.2" r="3.9" fill="#0000ff"/><circle cx="955.1" cy="937.2" r="3.9" fill="#0000ff"/><circle cx="961.5" cy="860.4" r="3.9" fill="#0000ff"/><circle cx="957.3" cy="868.3" r="3.9" fill="#0000ff"/><circle cx="961.5" cy="860.3" r="3.9" fill="#0000ff"/><circle cx="962.2" cy="899.4" r="3.9" fill="#0000ff"/><circle cx="952.6" cy="923.8" r="3.9" fill="#0000ff"/><circle cx="938.3" cy="944.7" r="3.9" fill="#0000ff"/><circle cx="966.5" cy="921.2" r="3.9" fill="#0000ff"/><circle cx="1009.2" cy="883.8" r="3.9" fill="#0000ff"/><circle cx="1011.3" cy="892.4" r="3.9" fill="#0000ff"/><circle cx="998.5" cy="915.4" r="3.9" fill="#0000ff"/><circle cx="984.2" cy="922.9" r="3.9" fill="#0000ff"/>
</g>
<text x="685.50" y="1091.40" font-size="19.00" font-family='"Liberation Serif", serif' font-style="italic" text-anchor="start" textLength="10.50" lengthAdjust="spacingAndGlyphs" fill="#000">λ</text>
<text x="695.70" y="1094.90" font-size="13.00" font-family='"Liberation Serif", serif' font-style="normal" text-anchor="start" textLength="5.50" lengthAdjust="spacingAndGlyphs" fill="#000">1</text>
<text x="704.50" y="1093.90" font-size="21.00" font-family='"Liberation Serif", serif' font-style="normal" text-anchor="start" textLength="7.00" lengthAdjust="spacingAndGlyphs" fill="#000">/</text>
<text x="714.00" y="1091.40" font-size="19.00" font-family='"Liberation Serif", serif' font-style="italic" text-anchor="start" textLength="10.50" lengthAdjust="spacingAndGlyphs" fill="#000">λ</text>
<text x="724.10" y="1094.90" font-size="13.00" font-family='"Liberation Serif", serif' font-style="normal" text-anchor="start" textLength="5.50" lengthAdjust="spacingAndGlyphs" fill="#000">2</text>
<text x="733.50" y="1091.40" font-size="22.00" font-family='"Liberation Serif", serif' font-style="normal" text-anchor="start" textLength="13.50" lengthAdjust="spacingAndGlyphs" fill="#000">≈</text>
<text x="757.00" y="1091.40" font-size="18.33" text-anchor="start" textLength="40.08" lengthAdjust="spacingAndGlyphs" fill="#000">2.24</text>
<g clip-path="url(#c_p6)">
<path d="M1442.0 687.4L1407.2 725.6L1370.5 763.2L1374.7 763.2L1391.4 760.4L1406.1 758.3L1373.2 750.2L1339.5 743.3L1361.3 760.4L1384.3 776.4L1509.3 781.1L1458.0 817.0L1418.5 812.3M1442.0 687.4L1464.0 736.5L1486.2 785.4L1421.7 773.2L1374.7 763.2M1430.3 777.5L1436.7 860.8L1436.7 869.7L1439.9 870.4L1425.6 882.8L1414.2 899.4L1426.0 916.3L1431.8 924.4L1460.2 944.3L1456.5 937.2L1455.9 921.2L1452.3 868.3L1456.5 832.4L1431.3 828.3L1402.1 838.4L1383.9 923.8L1370.5 969.2L1374.7 990.2L1377.5 1008.1L1373.7 1023.3L1391.4 1021.6L1447.3 978.9L1473.4 967.1L1556.2 915.4L1486.4 892.4L1439.9 884.5L1456.5 937.2M1446.3 779.6L1501.8 818.5L1475.1 865.0L1426.0 916.3L1405.3 951.5L1394.4 963.5L1402.5 975.0L1464.0 1055.3L1449.5 1060.4L1415.3 1049.3L1400.4 1030.5L1391.4 1008.1L1399.3 1002.3L1413.2 999.1L1422.8 1001.3L1430.7 990.6L1447.3 978.9L1501.8 1031.2L1483.0 1013.4L1474.0 1000.2L1458.0 987.4L1455.5 977.8L1449.5 970.3L1443.1 970.3M1452.0 823.0L1408.5 863.3L1408.5 857.6L1410.4 850.5L1419.6 838.4L1436.7 829.2L1456.5 832.4M1454.2 845.4L1436.7 860.8M1454.2 845.4L1466.6 902.4L1472.3 932.3M1403.6 868.3L1382.2 927.6L1366.2 1043.3L1391.4 1021.6M1403.6 868.3L1413.2 872.5L1425.6 882.8M1429.2 956.4L1391.4 1021.6M1429.2 956.4L1430.3 777.5M1394.0 982.5L1397.2 987.4L1405.3 984.2M1458.0 987.4L1501.8 1031.2" fill="none" stroke="#0000ff" stroke-width="1.94" stroke-linejoin="round"/>
<circle cx="1442.0" cy="687.4" r="3.9" fill="#0000ff"/><circle cx="1407.2" cy="725.6" r="3.9" fill="#0000ff"/><circle cx="1370.5" cy="763.2" r="3.9" fill="#0000ff"/><circle cx="1374.7" cy="763.2" r="3.9" fill="#0000ff"/><circle cx="1391.4" cy="760.4" r="3.9" fill="#0000ff"/><circle cx="1406.1" cy="758.3" r="3.9" fill="#0000ff"/><circle cx="1373.2" cy="750.2" r="3.9" fill="#0000ff"/><circle cx="1339.5" cy="743.3" r="3.9" fill="#0000ff"/><circle cx="1361.3" cy="760.4" r="3.9" fill="#0000ff"/><circle cx="1384.3" cy="776.4" r="3.9" fill="#0000ff"/><circle cx="1509.3" cy="781.1" r="3.9" fill="#0000ff"/><circle cx="1458.0" cy="817.0" r="3.9" fill="#0000ff"/><circle cx="1418.5" cy="812.3" r="3.9" fill="#0000ff"/><circle cx="1464.0" cy="736.5" r="3.9" fill="#0000ff"/><circle cx="1486.2" cy="785.4" r="3.9" fill="#0000ff"/><circle cx="1421.7" cy="773.2" r="3.9" fill="#0000ff"/><circle cx="1430.3" cy="777.5" r="3.9" fill="#0000ff"/><circle cx="1436.7" cy="860.8" r="3.9" fill="#0000ff"/><circle cx="1436.7" cy="869.7" r="3.9" fill="#0000ff"/><circle cx="1439.9" cy="870.4" r="3.9" fill="#0000ff"/><circle cx="1425.6" cy="882.8" r="3.9" fill="#0000ff"/><circle cx="1414.2" cy="899.4" r="3.9" fill="#0000ff"/><circle cx="1426.0" cy="916.3" r="3.9" fill="#0000ff"/><circle cx="1431.8" cy="924.4" r="3.9" fill="#0000ff"/><circle cx="1460.2" cy="944.3" r="3.9" fill="#0000ff"/><circle cx="1456.5" cy="937.2" r="3.9" fill="#0000ff"/><circle cx="1455.9" cy="921.2" r="3.9" fill="#0000ff"/><circle cx="1452.3" cy="868.3" r="3.9" fill="#0000ff"/><circle cx="1456.5" cy="832.4" r="3.9" fill="#0000ff"/><circle cx="1431.3" cy="828.3" r="3.9" fill="#0000ff"/><circle cx="1402.1" cy="838.4" r="3.9" fill="#0000ff"/><circle cx="1383.9" cy="923.8" r="3.9" fill="#0000ff"/><circle cx="1370.5" cy="969.2" r="3.9" fill="#0000ff"/><circle cx="1374.7" cy="990.2" r="3.9" fill="#0000ff"/><circle cx="1377.5" cy="1008.1" r="3.9" fill="#0000ff"/><circle cx="1373.7" cy="1023.3" r="3.9" fill="#0000ff"/><circle cx="1391.4" cy="1021.6" r="3.9" fill="#0000ff"/><circle cx="1447.3" cy="978.9" r="3.9" fill="#0000ff"/><circle cx="1473.4" cy="967.1" r="3.9" fill="#0000ff"/><circle cx="1556.2" cy="915.4" r="3.9" fill="#0000ff"/><circle cx="1486.4" cy="892.4" r="3.9" fill="#0000ff"/><circle cx="1439.9" cy="884.5" r="3.9" fill="#0000ff"/><circle cx="1446.3" cy="779.6" r="3.9" fill="#0000ff"/><circle cx="1501.8" cy="818.5" r="3.9" fill="#0000ff"/><circle cx="1475.1" cy="865.0" r="3.9" fill="#0000ff"/><circle cx="1405.3" cy="951.5" r="3.9" fill="#0000ff"/><circle cx="1394.4" cy="963.5" r="3.9" fill="#0000ff"/><circle cx="1402.5" cy="975.0" r="3.9" fill="#0000ff"/><circle cx="1464.0" cy="1055.3" r="3.9" fill="#0000ff"/><circle cx="1449.5" cy="1060.4" r="3.9" fill="#0000ff"/><circle cx="1415.3" cy="1049.3" r="3.9" fill="#0000ff"/><circle cx="1400.4" cy="1030.5" r="3.9" fill="#0000ff"/><circle cx="1391.4" cy="1008.1" r="3.9" fill="#0000ff"/><circle cx="1399.3" cy="1002.3" r="3.9" fill="#0000ff"/><circle cx="1413.2" cy="999.1" r="3.9" fill="#0000ff"/><circle cx="1422.8" cy="1001.3" r="3.9" fill="#0000ff"/><circle cx="1430.7" cy="990.6" r="3.9" fill="#0000ff"/><circle cx="1501.8" cy="1031.2" r="3.9" fill="#0000ff"/><circle cx="1483.0" cy="1013.4" r="3.9" fill="#0000ff"/><circle cx="1474.0" cy="1000.2" r="3.9" fill="#0000ff"/><circle cx="1458.0" cy="987.4" r="3.9" fill="#0000ff"/><circle cx="1455.5" cy="977.8" r="3.9" fill="#0000ff"/><circle cx="1449.5" cy="970.3" r="3.9" fill="#0000ff"/><circle cx="1443.1" cy="970.3" r="3.9" fill="#0000ff"/><circle cx="1452.0" cy="823.0" r="3.9" fill="#0000ff"/><circle cx="1408.5" cy="863.3" r="3.9" fill="#0000ff"/><circle cx="1408.5" cy="857.6" r="3.9" fill="#0000ff"/><circle cx="1410.4" cy="850.5" r="3.9" fill="#0000ff"/><circle cx="1419.6" cy="838.4" r="3.9" fill="#0000ff"/><circle cx="1436.7" cy="829.2" r="3.9" fill="#0000ff"/><circle cx="1454.2" cy="845.4" r="3.9" fill="#0000ff"/><circle cx="1466.6" cy="902.4" r="3.9" fill="#0000ff"/><circle cx="1472.3" cy="932.3" r="3.9" fill="#0000ff"/><circle cx="1403.6" cy="868.3" r="3.9" fill="#0000ff"/><circle cx="1382.2" cy="927.6" r="3.9" fill="#0000ff"/><circle cx="1366.2" cy="1043.3" r="3.9" fill="#0000ff"/><circle cx="1413.2" cy="872.5" r="3.9" fill="#0000ff"/><circle cx="1429.2" cy="956.4" r="3.9" fill="#0000ff"/><circle cx="1394.0" cy="982.5" r="3.9" fill="#0000ff"/><circle cx="1397.2" cy="987.4" r="3.9" fill="#0000ff"/><circle cx="1405.3" cy="984.2" r="3.9" fill="#0000ff"/>
</g>
<text x="1262.00" y="1091.40" font-size="19.00" font-family='"Liberation Serif", serif' font-style="italic" text-anchor="start" textLength="10.50" lengthAdjust="spacingAndGlyphs" fill="#000">λ</text>
<text x="1272.20" y="1094.90" font-size="13.00" font-family='"Liberation Serif", serif' font-style="normal" text-anchor="start" textLength="5.50" lengthAdjust="spacingAndGlyphs" fill="#000">1</text>
<text x="1281.00" y="1093.90" font-size="21.00" font-family='"Liberation Serif", serif' font-style="normal" text-anchor="start" textLength="7.00" lengthAdjust="spacingAndGlyphs" fill="#000">/</text>
<text x="1290.50" y="1091.40" font-size="19.00" font-family='"Liberation Serif", serif' font-style="italic" text-anchor="start" textLength="10.50" lengthAdjust="spacingAndGlyphs" fill="#000">λ</text>
<text x="1300.60" y="1094.90" font-size="13.00" font-family='"Liberation Serif", serif' font-style="normal" text-anchor="start" textLength="5.50" lengthAdjust="spacingAndGlyphs" fill="#000">3</text>
<text x="1310.00" y="1091.40" font-size="22.00" font-family='"Liberation Serif", serif' font-style="normal" text-anchor="start" textLength="13.50" lengthAdjust="spacingAndGlyphs" fill="#000">≈</text>
<text x="1333.50" y="1091.40" font-size="18.33" text-anchor="start" textLength="40.08" lengthAdjust="spacingAndGlyphs" fill="#000">6.03</text>
<text x="678.30" y="650.10" font-size="23.75" text-anchor="start" textLength="284.56" lengthAdjust="spacingAndGlyphs" fill="#000">Hodogram (V2_V1 MVAV</text>
<text x="961.40" y="652.50" font-size="17.00" font-family='"Liberation Serif", serif' font-style="italic" text-anchor="start" textLength="75.30" lengthAdjust="spacingAndGlyphs" fill="#000">remaining</text>
<text x="1043.40" y="650.10" font-size="23.75" text-anchor="start" textLength="78.28" lengthAdjust="spacingAndGlyphs" fill="#000">frame)</text>
<text x="1234.30" y="650.10" font-size="23.75" text-anchor="start" textLength="284.56" lengthAdjust="spacingAndGlyphs" fill="#000">Hodogram (V3_V1 MVAV</text>
<text x="1517.40" y="652.50" font-size="17.00" font-family='"Liberation Serif", serif' font-style="italic" text-anchor="start" textLength="75.30" lengthAdjust="spacingAndGlyphs" fill="#000">remaining</text>
<text x="1599.40" y="650.10" font-size="23.75" text-anchor="start" textLength="78.28" lengthAdjust="spacingAndGlyphs" fill="#000">frame)</text>
<text x="900.00" y="590.50" font-size="16.90" text-anchor="middle" textLength="74.89" lengthAdjust="spacingAndGlyphs" fill="#000">V2(km/s)</text>
<text x="1456.00" y="590.50" font-size="16.90" text-anchor="middle" textLength="74.89" lengthAdjust="spacingAndGlyphs" fill="#000">V3(km/s)</text>
<text x="900.00" y="1168.50" font-size="16.90" text-anchor="middle" textLength="74.89" lengthAdjust="spacingAndGlyphs" fill="#000">V2(km/s)</text>
<text x="1456.00" y="1168.50" font-size="16.90" text-anchor="middle" textLength="74.89" lengthAdjust="spacingAndGlyphs" fill="#000">V3(km/s)</text>
<text x="616.00" y="313.50" font-size="16.90" text-anchor="middle" textLength="74.89" lengthAdjust="spacingAndGlyphs" fill="#000" transform="rotate(-90 616.00 313.50)">V1(km/s)</text>
<text x="1172.00" y="313.50" font-size="16.90" text-anchor="middle" textLength="74.89" lengthAdjust="spacingAndGlyphs" fill="#000" transform="rotate(-90 1172.00 313.50)">V1(km/s)</text>
<text x="616.00" y="891.50" font-size="16.90" text-anchor="middle" textLength="74.89" lengthAdjust="spacingAndGlyphs" fill="#000" transform="rotate(-90 616.00 891.50)">V1(km/s)</text>
<text x="1172.00" y="891.50" font-size="16.90" text-anchor="middle" textLength="74.89" lengthAdjust="spacingAndGlyphs" fill="#000" transform="rotate(-90 1172.00 891.50)">V1(km/s)</text>
<text x="306.20" y="1167.80" font-size="16.90" text-anchor="start" textLength="11.36" lengthAdjust="spacingAndGlyphs" fill="#000">V</text>
<text x="319.50" y="1170.00" font-size="11.50" font-family='"Liberation Serif", serif' font-style="italic" text-anchor="start" textLength="7.50" lengthAdjust="spacingAndGlyphs" fill="#000">A</text>
<text x="328.50" y="1167.80" font-size="16.90" text-anchor="start" textLength="52.97" lengthAdjust="spacingAndGlyphs" fill="#000">(km/s)</text>
<text x="54.80" y="950.30" font-size="16.90" text-anchor="start" textLength="11.36" lengthAdjust="spacingAndGlyphs" fill="#000" transform="rotate(-90 54.80 950.30)">V</text>
<text x="58.20" y="933.00" font-size="11.50" font-family='"Liberation Serif", serif' font-style="italic" text-anchor="start" textLength="51.00" lengthAdjust="spacingAndGlyphs" fill="#000" transform="rotate(-90 58.20 933.00)">remaining</text>
<text x="54.80" y="882.00" font-size="16.90" text-anchor="start" textLength="52.97" lengthAdjust="spacingAndGlyphs" fill="#000" transform="rotate(-90 54.80 882.00)">(km/s)</text>
<text x="69.10" y="2451.80" font-size="16.00" font-family='"Liberation Serif", serif' font-style="italic" text-anchor="start" textLength="10.00" lengthAdjust="spacingAndGlyphs" fill="#000" transform="rotate(-90 69.10 2451.80)">β</text>
<text x="72.50" y="2442.50" font-size="11.00" font-family='"Liberation Serif", serif' font-style="italic" text-anchor="start" textLength="5.50" lengthAdjust="spacingAndGlyphs" fill="#000" transform="rotate(-90 72.50 2442.50)">p</text>
<text x="69.10" y="2431.20" font-size="16.49" text-anchor="start" textLength="30.48" lengthAdjust="spacingAndGlyphs" fill="#000" transform="rotate(-90 69.10 2431.20)">and</text>
<text x="69.10" y="2394.00" font-size="16.00" font-family='"Liberation Serif", serif' font-style="italic" text-anchor="start" textLength="10.00" lengthAdjust="spacingAndGlyphs" fill="#000" transform="rotate(-90 69.10 2394.00)">β</text>
<text x="1655.50" y="2331.00" font-size="15.00" font-family='"Liberation Serif", serif' font-style="italic" text-anchor="start" textLength="9.00" lengthAdjust="spacingAndGlyphs" fill="#000">β</text>
<text x="1664.30" y="2334.00" font-size="10.00" font-family='"Liberation Serif", serif' font-style="italic" text-anchor="start" textLength="5.00" lengthAdjust="spacingAndGlyphs" fill="#000">p</text>
<text x="42.90" y="3120.10" font-size="16.49" text-anchor="start" textLength="26.50" lengthAdjust="spacingAndGlyphs" fill="#000" transform="rotate(-90 42.90 3120.10)">Tp(</text>
<text x="42.90" y="3091.60" font-size="16.50" font-family='"Liberation Serif", serif' font-style="normal" text-anchor="start" textLength="15.30" lengthAdjust="spacingAndGlyphs" fill="#000" transform="rotate(-90 42.90 3091.60)">10</text>
<text x="36.50" y="3074.00" font-size="11.50" font-family='"Liberation Serif", serif' font-style="normal" text-anchor="start" textLength="5.00" lengthAdjust="spacingAndGlyphs" fill="#000" transform="rotate(-90 36.50 3074.00)">6</text>
<text x="42.90" y="3066.80" font-size="16.50" font-family='"Liberation Serif", serif' font-style="normal" text-anchor="start" textLength="10.50" lengthAdjust="spacingAndGlyphs" fill="#000" transform="rotate(-90 42.90 3066.80)">K</text>
<text x="42.90" y="3056.50" font-size="16.49" text-anchor="start" textLength="6.32" lengthAdjust="spacingAndGlyphs" fill="#000" transform="rotate(-90 42.90 3056.50)">)</text>
</svg></body></html>
